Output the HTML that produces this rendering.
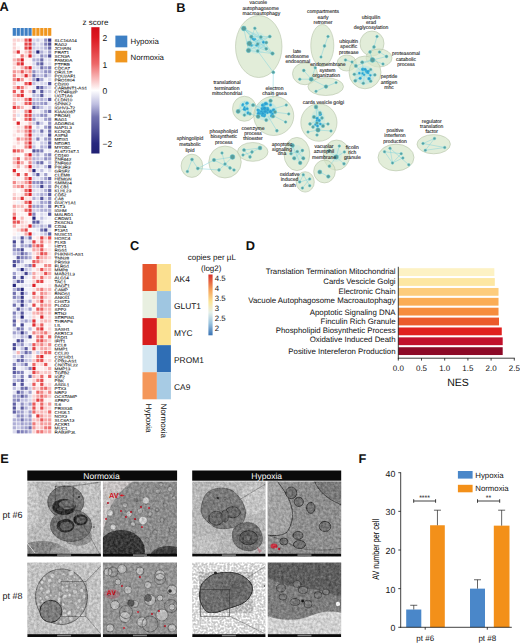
<!DOCTYPE html>
<html><head><meta charset="utf-8"><title>Figure</title>
<style>
html,body{margin:0;padding:0;background:#fff;}
body{width:520px;height:643px;overflow:hidden;}
svg{display:block;}
svg{fill:#111;text-rendering:geometricPrecision;}
text{font-family:"Liberation Sans", sans-serif;}
.pl{font-size:12.8px;font-weight:bold;}
.gl{font-size:3.9px;}
.t5{font-size:5.05px;}
.t6{font-size:6px;}
.t7{font-size:7px;}
.t88{font-size:8.8px;}
.t75{font-size:7.8px;}
.t76{font-size:7.6px;}
.t95{font-size:9.5px;}
.t77{font-size:7.85px;}
.t8{font-size:8px;}
.t84{font-size:8.4px;}
.t85{font-size:8.5px;}
.t9{font-size:9px;}
.t10{font-size:10.5px;}
</style></head><body>
<svg width="520" height="643" viewBox="0 0 520 643">
<rect width="520" height="643" fill="#fff"/>
<text x="-0.4" y="10.9" class="pl">A</text>
<rect x="12.7" y="28" width="3.23" height="7.8" fill="#3d7fc4"/>
<rect x="16.63" y="28" width="3.23" height="7.8" fill="#3d7fc4"/>
<rect x="20.56" y="28" width="3.23" height="7.8" fill="#3d7fc4"/>
<rect x="24.49" y="28" width="3.23" height="7.8" fill="#3d7fc4"/>
<rect x="28.42" y="28" width="3.23" height="7.8" fill="#3d7fc4"/>
<rect x="32.35" y="28" width="3.23" height="7.8" fill="#f0961e"/>
<rect x="36.28" y="28" width="3.23" height="7.8" fill="#f0961e"/>
<rect x="40.21" y="28" width="3.23" height="7.8" fill="#f0961e"/>
<rect x="44.14" y="28" width="3.23" height="7.8" fill="#f0961e"/>
<rect x="48.07" y="28" width="3.23" height="7.8" fill="#f0961e"/>
<rect x="12.7" y="38.5" width="3.23" height="3.26" fill="#fbd3d3"/>
<rect x="16.63" y="38.5" width="3.23" height="3.26" fill="#fbd3d3"/>
<rect x="20.56" y="38.5" width="3.23" height="3.26" fill="#fce2e2"/>
<rect x="24.49" y="38.5" width="3.23" height="3.26" fill="#ea585a"/>
<rect x="28.42" y="38.5" width="3.23" height="3.26" fill="#dc1820"/>
<rect x="32.35" y="38.5" width="3.23" height="3.26" fill="#d8d8ec"/>
<rect x="36.28" y="38.5" width="3.23" height="3.26" fill="#cbcbe6"/>
<rect x="40.21" y="38.5" width="3.23" height="3.26" fill="#e5e5f3"/>
<rect x="44.14" y="38.5" width="3.23" height="3.26" fill="#9090c3"/>
<rect x="48.07" y="38.5" width="3.23" height="3.26" fill="#373788"/>
<rect x="12.7" y="42.46" width="3.23" height="3.26" fill="#fbd3d3"/>
<rect x="16.63" y="42.46" width="3.23" height="3.26" fill="#ffffff"/>
<rect x="20.56" y="42.46" width="3.23" height="3.26" fill="#ffffff"/>
<rect x="24.49" y="42.46" width="3.23" height="3.26" fill="#e6484b"/>
<rect x="28.42" y="42.46" width="3.23" height="3.26" fill="#e3383d"/>
<rect x="32.35" y="42.46" width="3.23" height="3.26" fill="#bebee0"/>
<rect x="36.28" y="42.46" width="3.23" height="3.26" fill="#e5e5f3"/>
<rect x="40.21" y="42.46" width="3.23" height="3.26" fill="#cbcbe6"/>
<rect x="44.14" y="42.46" width="3.23" height="3.26" fill="#8181ba"/>
<rect x="48.07" y="42.46" width="3.23" height="3.26" fill="#4d4d97"/>
<rect x="12.7" y="46.41" width="3.23" height="3.26" fill="#fbd3d3"/>
<rect x="16.63" y="46.41" width="3.23" height="3.26" fill="#fef0f0"/>
<rect x="20.56" y="46.41" width="3.23" height="3.26" fill="#ffffff"/>
<rect x="24.49" y="46.41" width="3.23" height="3.26" fill="#e6484b"/>
<rect x="28.42" y="46.41" width="3.23" height="3.26" fill="#dc1820"/>
<rect x="32.35" y="46.41" width="3.23" height="3.26" fill="#cbcbe6"/>
<rect x="36.28" y="46.41" width="3.23" height="3.26" fill="#d8d8ec"/>
<rect x="40.21" y="46.41" width="3.23" height="3.26" fill="#cbcbe6"/>
<rect x="44.14" y="46.41" width="3.23" height="3.26" fill="#afafd6"/>
<rect x="48.07" y="46.41" width="3.23" height="3.26" fill="#6b6bab"/>
<rect x="12.7" y="50.37" width="3.23" height="3.26" fill="#f9c5c5"/>
<rect x="16.63" y="50.37" width="3.23" height="3.26" fill="#e13036"/>
<rect x="20.56" y="50.37" width="3.23" height="3.26" fill="#fef0f0"/>
<rect x="24.49" y="50.37" width="3.23" height="3.26" fill="#f9c5c5"/>
<rect x="28.42" y="50.37" width="3.23" height="3.26" fill="#ef7878"/>
<rect x="32.35" y="50.37" width="3.23" height="3.26" fill="#cbcbe6"/>
<rect x="36.28" y="50.37" width="3.23" height="3.26" fill="#28287e"/>
<rect x="40.21" y="50.37" width="3.23" height="3.26" fill="#afafd6"/>
<rect x="44.14" y="50.37" width="3.23" height="3.26" fill="#d8d8ec"/>
<rect x="48.07" y="50.37" width="3.23" height="3.26" fill="#a0a0cd"/>
<rect x="12.7" y="54.32" width="3.23" height="3.26" fill="#fce2e2"/>
<rect x="16.63" y="54.32" width="3.23" height="3.26" fill="#ffffff"/>
<rect x="20.56" y="54.32" width="3.23" height="3.26" fill="#ef7878"/>
<rect x="24.49" y="54.32" width="3.23" height="3.26" fill="#fbd3d3"/>
<rect x="28.42" y="54.32" width="3.23" height="3.26" fill="#de2027"/>
<rect x="32.35" y="54.32" width="3.23" height="3.26" fill="#cbcbe6"/>
<rect x="36.28" y="54.32" width="3.23" height="3.26" fill="#e5e5f3"/>
<rect x="40.21" y="54.32" width="3.23" height="3.26" fill="#9090c3"/>
<rect x="44.14" y="54.32" width="3.23" height="3.26" fill="#afafd6"/>
<rect x="48.07" y="54.32" width="3.23" height="3.26" fill="#4d4d97"/>
<rect x="12.7" y="58.28" width="3.23" height="3.26" fill="#f8b6b6"/>
<rect x="16.63" y="58.28" width="3.23" height="3.26" fill="#f18787"/>
<rect x="20.56" y="58.28" width="3.23" height="3.26" fill="#dc1820"/>
<rect x="24.49" y="58.28" width="3.23" height="3.26" fill="#fef0f0"/>
<rect x="28.42" y="58.28" width="3.23" height="3.26" fill="#fef0f0"/>
<rect x="32.35" y="58.28" width="3.23" height="3.26" fill="#afafd6"/>
<rect x="36.28" y="58.28" width="3.23" height="3.26" fill="#afafd6"/>
<rect x="40.21" y="58.28" width="3.23" height="3.26" fill="#6b6bab"/>
<rect x="44.14" y="58.28" width="3.23" height="3.26" fill="#e5e5f3"/>
<rect x="48.07" y="58.28" width="3.23" height="3.26" fill="#d8d8ec"/>
<rect x="12.7" y="62.24" width="3.23" height="3.26" fill="#fbd3d3"/>
<rect x="16.63" y="62.24" width="3.23" height="3.26" fill="#e85052"/>
<rect x="20.56" y="62.24" width="3.23" height="3.26" fill="#df282e"/>
<rect x="24.49" y="62.24" width="3.23" height="3.26" fill="#fef0f0"/>
<rect x="28.42" y="62.24" width="3.23" height="3.26" fill="#fef0f0"/>
<rect x="32.35" y="62.24" width="3.23" height="3.26" fill="#d8d8ec"/>
<rect x="36.28" y="62.24" width="3.23" height="3.26" fill="#8181ba"/>
<rect x="40.21" y="62.24" width="3.23" height="3.26" fill="#5c5ca1"/>
<rect x="44.14" y="62.24" width="3.23" height="3.26" fill="#e5e5f3"/>
<rect x="48.07" y="62.24" width="3.23" height="3.26" fill="#d8d8ec"/>
<rect x="12.7" y="66.19" width="3.23" height="3.26" fill="#fbd3d3"/>
<rect x="16.63" y="66.19" width="3.23" height="3.26" fill="#fef0f0"/>
<rect x="20.56" y="66.19" width="3.23" height="3.26" fill="#f8b6b6"/>
<rect x="24.49" y="66.19" width="3.23" height="3.26" fill="#eb6061"/>
<rect x="28.42" y="66.19" width="3.23" height="3.26" fill="#de2027"/>
<rect x="32.35" y="66.19" width="3.23" height="3.26" fill="#d8d8ec"/>
<rect x="36.28" y="66.19" width="3.23" height="3.26" fill="#d8d8ec"/>
<rect x="40.21" y="66.19" width="3.23" height="3.26" fill="#7272b0"/>
<rect x="44.14" y="66.19" width="3.23" height="3.26" fill="#a0a0cd"/>
<rect x="48.07" y="66.19" width="3.23" height="3.26" fill="#8181ba"/>
<rect x="12.7" y="70.15" width="3.23" height="3.26" fill="#f49797"/>
<rect x="16.63" y="70.15" width="3.23" height="3.26" fill="#f8b6b6"/>
<rect x="20.56" y="70.15" width="3.23" height="3.26" fill="#ea585a"/>
<rect x="24.49" y="70.15" width="3.23" height="3.26" fill="#f8b6b6"/>
<rect x="28.42" y="70.15" width="3.23" height="3.26" fill="#f49797"/>
<rect x="32.35" y="70.15" width="3.23" height="3.26" fill="#9090c3"/>
<rect x="36.28" y="70.15" width="3.23" height="3.26" fill="#cbcbe6"/>
<rect x="40.21" y="70.15" width="3.23" height="3.26" fill="#bebee0"/>
<rect x="44.14" y="70.15" width="3.23" height="3.26" fill="#9090c3"/>
<rect x="48.07" y="70.15" width="3.23" height="3.26" fill="#9090c3"/>
<rect x="12.7" y="74.1" width="3.23" height="3.26" fill="#f18787"/>
<rect x="16.63" y="74.1" width="3.23" height="3.26" fill="#fce2e2"/>
<rect x="20.56" y="74.1" width="3.23" height="3.26" fill="#f9c5c5"/>
<rect x="24.49" y="74.1" width="3.23" height="3.26" fill="#df282e"/>
<rect x="28.42" y="74.1" width="3.23" height="3.26" fill="#f8b6b6"/>
<rect x="32.35" y="74.1" width="3.23" height="3.26" fill="#7272b0"/>
<rect x="36.28" y="74.1" width="3.23" height="3.26" fill="#bebee0"/>
<rect x="40.21" y="74.1" width="3.23" height="3.26" fill="#bebee0"/>
<rect x="44.14" y="74.1" width="3.23" height="3.26" fill="#9090c3"/>
<rect x="48.07" y="74.1" width="3.23" height="3.26" fill="#cbcbe6"/>
<rect x="12.7" y="78.06" width="3.23" height="3.26" fill="#f18787"/>
<rect x="16.63" y="78.06" width="3.23" height="3.26" fill="#e44044"/>
<rect x="20.56" y="78.06" width="3.23" height="3.26" fill="#f49797"/>
<rect x="24.49" y="78.06" width="3.23" height="3.26" fill="#fef0f0"/>
<rect x="28.42" y="78.06" width="3.23" height="3.26" fill="#fbd3d3"/>
<rect x="32.35" y="78.06" width="3.23" height="3.26" fill="#a0a0cd"/>
<rect x="36.28" y="78.06" width="3.23" height="3.26" fill="#373788"/>
<rect x="40.21" y="78.06" width="3.23" height="3.26" fill="#a0a0cd"/>
<rect x="44.14" y="78.06" width="3.23" height="3.26" fill="#f2f2f9"/>
<rect x="48.07" y="78.06" width="3.23" height="3.26" fill="#d8d8ec"/>
<rect x="12.7" y="82.02" width="3.23" height="3.26" fill="#f9c5c5"/>
<rect x="16.63" y="82.02" width="3.23" height="3.26" fill="#f2f2f9"/>
<rect x="20.56" y="82.02" width="3.23" height="3.26" fill="#fef0f0"/>
<rect x="24.49" y="82.02" width="3.23" height="3.26" fill="#ea585a"/>
<rect x="28.42" y="82.02" width="3.23" height="3.26" fill="#dc1820"/>
<rect x="32.35" y="82.02" width="3.23" height="3.26" fill="#bebee0"/>
<rect x="36.28" y="82.02" width="3.23" height="3.26" fill="#e5e5f3"/>
<rect x="40.21" y="82.02" width="3.23" height="3.26" fill="#d8d8ec"/>
<rect x="44.14" y="82.02" width="3.23" height="3.26" fill="#d8d8ec"/>
<rect x="48.07" y="82.02" width="3.23" height="3.26" fill="#54549c"/>
<rect x="12.7" y="85.97" width="3.23" height="3.26" fill="#f8b6b6"/>
<rect x="16.63" y="85.97" width="3.23" height="3.26" fill="#e85052"/>
<rect x="20.56" y="85.97" width="3.23" height="3.26" fill="#ef7878"/>
<rect x="24.49" y="85.97" width="3.23" height="3.26" fill="#fbd3d3"/>
<rect x="28.42" y="85.97" width="3.23" height="3.26" fill="#fef0f0"/>
<rect x="32.35" y="85.97" width="3.23" height="3.26" fill="#e5e5f3"/>
<rect x="36.28" y="85.97" width="3.23" height="3.26" fill="#4d4d97"/>
<rect x="40.21" y="85.97" width="3.23" height="3.26" fill="#6b6bab"/>
<rect x="44.14" y="85.97" width="3.23" height="3.26" fill="#bebee0"/>
<rect x="48.07" y="85.97" width="3.23" height="3.26" fill="#d8d8ec"/>
<rect x="12.7" y="89.93" width="3.23" height="3.26" fill="#ea585a"/>
<rect x="16.63" y="89.93" width="3.23" height="3.26" fill="#fef0f0"/>
<rect x="20.56" y="89.93" width="3.23" height="3.26" fill="#e6484b"/>
<rect x="24.49" y="89.93" width="3.23" height="3.26" fill="#fef0f0"/>
<rect x="28.42" y="89.93" width="3.23" height="3.26" fill="#f9c5c5"/>
<rect x="32.35" y="89.93" width="3.23" height="3.26" fill="#54549c"/>
<rect x="36.28" y="89.93" width="3.23" height="3.26" fill="#e5e5f3"/>
<rect x="40.21" y="89.93" width="3.23" height="3.26" fill="#5c5ca1"/>
<rect x="44.14" y="89.93" width="3.23" height="3.26" fill="#d8d8ec"/>
<rect x="48.07" y="89.93" width="3.23" height="3.26" fill="#cbcbe6"/>
<rect x="12.7" y="93.88" width="3.23" height="3.26" fill="#f8b6b6"/>
<rect x="16.63" y="93.88" width="3.23" height="3.26" fill="#ed6868"/>
<rect x="20.56" y="93.88" width="3.23" height="3.26" fill="#df282e"/>
<rect x="24.49" y="93.88" width="3.23" height="3.26" fill="#fef0f0"/>
<rect x="28.42" y="93.88" width="3.23" height="3.26" fill="#fef0f0"/>
<rect x="32.35" y="93.88" width="3.23" height="3.26" fill="#bebee0"/>
<rect x="36.28" y="93.88" width="3.23" height="3.26" fill="#bebee0"/>
<rect x="40.21" y="93.88" width="3.23" height="3.26" fill="#5c5ca1"/>
<rect x="44.14" y="93.88" width="3.23" height="3.26" fill="#e5e5f3"/>
<rect x="48.07" y="93.88" width="3.23" height="3.26" fill="#e5e5f3"/>
<rect x="12.7" y="97.84" width="3.23" height="3.26" fill="#f9c5c5"/>
<rect x="16.63" y="97.84" width="3.23" height="3.26" fill="#fbd3d3"/>
<rect x="20.56" y="97.84" width="3.23" height="3.26" fill="#fce2e2"/>
<rect x="24.49" y="97.84" width="3.23" height="3.26" fill="#ef7878"/>
<rect x="28.42" y="97.84" width="3.23" height="3.26" fill="#df282e"/>
<rect x="32.35" y="97.84" width="3.23" height="3.26" fill="#bebee0"/>
<rect x="36.28" y="97.84" width="3.23" height="3.26" fill="#bebee0"/>
<rect x="40.21" y="97.84" width="3.23" height="3.26" fill="#afafd6"/>
<rect x="44.14" y="97.84" width="3.23" height="3.26" fill="#bebee0"/>
<rect x="48.07" y="97.84" width="3.23" height="3.26" fill="#5c5ca1"/>
<rect x="12.7" y="101.8" width="3.23" height="3.26" fill="#f8b6b6"/>
<rect x="16.63" y="101.8" width="3.23" height="3.26" fill="#f2f2f9"/>
<rect x="20.56" y="101.8" width="3.23" height="3.26" fill="#fce2e2"/>
<rect x="24.49" y="101.8" width="3.23" height="3.26" fill="#eb6061"/>
<rect x="28.42" y="101.8" width="3.23" height="3.26" fill="#e44044"/>
<rect x="32.35" y="101.8" width="3.23" height="3.26" fill="#a0a0cd"/>
<rect x="36.28" y="101.8" width="3.23" height="3.26" fill="#afafd6"/>
<rect x="40.21" y="101.8" width="3.23" height="3.26" fill="#a0a0cd"/>
<rect x="44.14" y="101.8" width="3.23" height="3.26" fill="#9090c3"/>
<rect x="48.07" y="101.8" width="3.23" height="3.26" fill="#e5e5f3"/>
<rect x="12.7" y="105.75" width="3.23" height="3.26" fill="#e3383d"/>
<rect x="16.63" y="105.75" width="3.23" height="3.26" fill="#f18787"/>
<rect x="20.56" y="105.75" width="3.23" height="3.26" fill="#f8b6b6"/>
<rect x="24.49" y="105.75" width="3.23" height="3.26" fill="#fef0f0"/>
<rect x="28.42" y="105.75" width="3.23" height="3.26" fill="#fce2e2"/>
<rect x="32.35" y="105.75" width="3.23" height="3.26" fill="#4d4d97"/>
<rect x="36.28" y="105.75" width="3.23" height="3.26" fill="#9090c3"/>
<rect x="40.21" y="105.75" width="3.23" height="3.26" fill="#bebee0"/>
<rect x="44.14" y="105.75" width="3.23" height="3.26" fill="#e5e5f3"/>
<rect x="48.07" y="105.75" width="3.23" height="3.26" fill="#cbcbe6"/>
<rect x="12.7" y="109.71" width="3.23" height="3.26" fill="#fbd3d3"/>
<rect x="16.63" y="109.71" width="3.23" height="3.26" fill="#fef0f0"/>
<rect x="20.56" y="109.71" width="3.23" height="3.26" fill="#f2f2f9"/>
<rect x="24.49" y="109.71" width="3.23" height="3.26" fill="#f18787"/>
<rect x="28.42" y="109.71" width="3.23" height="3.26" fill="#dc1820"/>
<rect x="32.35" y="109.71" width="3.23" height="3.26" fill="#e5e5f3"/>
<rect x="36.28" y="109.71" width="3.23" height="3.26" fill="#f2f2f9"/>
<rect x="40.21" y="109.71" width="3.23" height="3.26" fill="#d8d8ec"/>
<rect x="44.14" y="109.71" width="3.23" height="3.26" fill="#a0a0cd"/>
<rect x="48.07" y="109.71" width="3.23" height="3.26" fill="#6b6bab"/>
<rect x="12.7" y="113.66" width="3.23" height="3.26" fill="#f9c5c5"/>
<rect x="16.63" y="113.66" width="3.23" height="3.26" fill="#e5e5f3"/>
<rect x="20.56" y="113.66" width="3.23" height="3.26" fill="#fef0f0"/>
<rect x="24.49" y="113.66" width="3.23" height="3.26" fill="#ea585a"/>
<rect x="28.42" y="113.66" width="3.23" height="3.26" fill="#e44044"/>
<rect x="32.35" y="113.66" width="3.23" height="3.26" fill="#bebee0"/>
<rect x="36.28" y="113.66" width="3.23" height="3.26" fill="#bebee0"/>
<rect x="40.21" y="113.66" width="3.23" height="3.26" fill="#9090c3"/>
<rect x="44.14" y="113.66" width="3.23" height="3.26" fill="#9090c3"/>
<rect x="48.07" y="113.66" width="3.23" height="3.26" fill="#e5e5f3"/>
<rect x="12.7" y="117.62" width="3.23" height="3.26" fill="#f8b6b6"/>
<rect x="16.63" y="117.62" width="3.23" height="3.26" fill="#ffffff"/>
<rect x="20.56" y="117.62" width="3.23" height="3.26" fill="#fef0f0"/>
<rect x="24.49" y="117.62" width="3.23" height="3.26" fill="#ed6868"/>
<rect x="28.42" y="117.62" width="3.23" height="3.26" fill="#e3383d"/>
<rect x="32.35" y="117.62" width="3.23" height="3.26" fill="#a0a0cd"/>
<rect x="36.28" y="117.62" width="3.23" height="3.26" fill="#e5e5f3"/>
<rect x="40.21" y="117.62" width="3.23" height="3.26" fill="#e5e5f3"/>
<rect x="44.14" y="117.62" width="3.23" height="3.26" fill="#a0a0cd"/>
<rect x="48.07" y="117.62" width="3.23" height="3.26" fill="#9090c3"/>
<rect x="12.7" y="121.58" width="3.23" height="3.26" fill="#fef0f0"/>
<rect x="16.63" y="121.58" width="3.23" height="3.26" fill="#de2027"/>
<rect x="20.56" y="121.58" width="3.23" height="3.26" fill="#fef0f0"/>
<rect x="24.49" y="121.58" width="3.23" height="3.26" fill="#fef0f0"/>
<rect x="28.42" y="121.58" width="3.23" height="3.26" fill="#f8b6b6"/>
<rect x="32.35" y="121.58" width="3.23" height="3.26" fill="#cbcbe6"/>
<rect x="36.28" y="121.58" width="3.23" height="3.26" fill="#7272b0"/>
<rect x="40.21" y="121.58" width="3.23" height="3.26" fill="#cbcbe6"/>
<rect x="44.14" y="121.58" width="3.23" height="3.26" fill="#f2f2f9"/>
<rect x="48.07" y="121.58" width="3.23" height="3.26" fill="#9090c3"/>
<rect x="12.7" y="125.53" width="3.23" height="3.26" fill="#fef0f0"/>
<rect x="16.63" y="125.53" width="3.23" height="3.26" fill="#fbd3d3"/>
<rect x="20.56" y="125.53" width="3.23" height="3.26" fill="#fce2e2"/>
<rect x="24.49" y="125.53" width="3.23" height="3.26" fill="#ed6868"/>
<rect x="28.42" y="125.53" width="3.23" height="3.26" fill="#e13036"/>
<rect x="32.35" y="125.53" width="3.23" height="3.26" fill="#f2f2f9"/>
<rect x="36.28" y="125.53" width="3.23" height="3.26" fill="#cbcbe6"/>
<rect x="40.21" y="125.53" width="3.23" height="3.26" fill="#f2f2f9"/>
<rect x="44.14" y="125.53" width="3.23" height="3.26" fill="#a0a0cd"/>
<rect x="48.07" y="125.53" width="3.23" height="3.26" fill="#6b6bab"/>
<rect x="12.7" y="129.49" width="3.23" height="3.26" fill="#fef0f0"/>
<rect x="16.63" y="129.49" width="3.23" height="3.26" fill="#f9c5c5"/>
<rect x="20.56" y="129.49" width="3.23" height="3.26" fill="#fbd3d3"/>
<rect x="24.49" y="129.49" width="3.23" height="3.26" fill="#f18787"/>
<rect x="28.42" y="129.49" width="3.23" height="3.26" fill="#e3383d"/>
<rect x="32.35" y="129.49" width="3.23" height="3.26" fill="#bebee0"/>
<rect x="36.28" y="129.49" width="3.23" height="3.26" fill="#d8d8ec"/>
<rect x="40.21" y="129.49" width="3.23" height="3.26" fill="#7272b0"/>
<rect x="44.14" y="129.49" width="3.23" height="3.26" fill="#e5e5f3"/>
<rect x="48.07" y="129.49" width="3.23" height="3.26" fill="#7272b0"/>
<rect x="12.7" y="133.44" width="3.23" height="3.26" fill="#fce2e2"/>
<rect x="16.63" y="133.44" width="3.23" height="3.26" fill="#fef0f0"/>
<rect x="20.56" y="133.44" width="3.23" height="3.26" fill="#fef0f0"/>
<rect x="24.49" y="133.44" width="3.23" height="3.26" fill="#f49797"/>
<rect x="28.42" y="133.44" width="3.23" height="3.26" fill="#dc1820"/>
<rect x="32.35" y="133.44" width="3.23" height="3.26" fill="#d8d8ec"/>
<rect x="36.28" y="133.44" width="3.23" height="3.26" fill="#d8d8ec"/>
<rect x="40.21" y="133.44" width="3.23" height="3.26" fill="#cbcbe6"/>
<rect x="44.14" y="133.44" width="3.23" height="3.26" fill="#e5e5f3"/>
<rect x="48.07" y="133.44" width="3.23" height="3.26" fill="#4d4d97"/>
<rect x="12.7" y="137.4" width="3.23" height="3.26" fill="#fef0f0"/>
<rect x="16.63" y="137.4" width="3.23" height="3.26" fill="#f18787"/>
<rect x="20.56" y="137.4" width="3.23" height="3.26" fill="#f8b6b6"/>
<rect x="24.49" y="137.4" width="3.23" height="3.26" fill="#f18787"/>
<rect x="28.42" y="137.4" width="3.23" height="3.26" fill="#e85052"/>
<rect x="32.35" y="137.4" width="3.23" height="3.26" fill="#d8d8ec"/>
<rect x="36.28" y="137.4" width="3.23" height="3.26" fill="#8181ba"/>
<rect x="40.21" y="137.4" width="3.23" height="3.26" fill="#e5e5f3"/>
<rect x="44.14" y="137.4" width="3.23" height="3.26" fill="#a0a0cd"/>
<rect x="48.07" y="137.4" width="3.23" height="3.26" fill="#8181ba"/>
<rect x="12.7" y="141.36" width="3.23" height="3.26" fill="#fef0f0"/>
<rect x="16.63" y="141.36" width="3.23" height="3.26" fill="#fbd3d3"/>
<rect x="20.56" y="141.36" width="3.23" height="3.26" fill="#fef0f0"/>
<rect x="24.49" y="141.36" width="3.23" height="3.26" fill="#f18787"/>
<rect x="28.42" y="141.36" width="3.23" height="3.26" fill="#de2027"/>
<rect x="32.35" y="141.36" width="3.23" height="3.26" fill="#d8d8ec"/>
<rect x="36.28" y="141.36" width="3.23" height="3.26" fill="#f2f2f9"/>
<rect x="40.21" y="141.36" width="3.23" height="3.26" fill="#cbcbe6"/>
<rect x="44.14" y="141.36" width="3.23" height="3.26" fill="#cbcbe6"/>
<rect x="48.07" y="141.36" width="3.23" height="3.26" fill="#5c5ca1"/>
<rect x="12.7" y="145.31" width="3.23" height="3.26" fill="#fbd3d3"/>
<rect x="16.63" y="145.31" width="3.23" height="3.26" fill="#fef0f0"/>
<rect x="20.56" y="145.31" width="3.23" height="3.26" fill="#fef0f0"/>
<rect x="24.49" y="145.31" width="3.23" height="3.26" fill="#f18787"/>
<rect x="28.42" y="145.31" width="3.23" height="3.26" fill="#df282e"/>
<rect x="32.35" y="145.31" width="3.23" height="3.26" fill="#bebee0"/>
<rect x="36.28" y="145.31" width="3.23" height="3.26" fill="#f2f2f9"/>
<rect x="40.21" y="145.31" width="3.23" height="3.26" fill="#afafd6"/>
<rect x="44.14" y="145.31" width="3.23" height="3.26" fill="#bebee0"/>
<rect x="48.07" y="145.31" width="3.23" height="3.26" fill="#4d4d97"/>
<rect x="12.7" y="149.27" width="3.23" height="3.26" fill="#e6484b"/>
<rect x="16.63" y="149.27" width="3.23" height="3.26" fill="#ed6868"/>
<rect x="20.56" y="149.27" width="3.23" height="3.26" fill="#f49797"/>
<rect x="24.49" y="149.27" width="3.23" height="3.26" fill="#fef0f0"/>
<rect x="28.42" y="149.27" width="3.23" height="3.26" fill="#fef0f0"/>
<rect x="32.35" y="149.27" width="3.23" height="3.26" fill="#54549c"/>
<rect x="36.28" y="149.27" width="3.23" height="3.26" fill="#7272b0"/>
<rect x="40.21" y="149.27" width="3.23" height="3.26" fill="#8181ba"/>
<rect x="44.14" y="149.27" width="3.23" height="3.26" fill="#f2f2f9"/>
<rect x="48.07" y="149.27" width="3.23" height="3.26" fill="#e5e5f3"/>
<rect x="12.7" y="153.22" width="3.23" height="3.26" fill="#fce2e2"/>
<rect x="16.63" y="153.22" width="3.23" height="3.26" fill="#fef0f0"/>
<rect x="20.56" y="153.22" width="3.23" height="3.26" fill="#ffffff"/>
<rect x="24.49" y="153.22" width="3.23" height="3.26" fill="#f49797"/>
<rect x="28.42" y="153.22" width="3.23" height="3.26" fill="#dc1820"/>
<rect x="32.35" y="153.22" width="3.23" height="3.26" fill="#cbcbe6"/>
<rect x="36.28" y="153.22" width="3.23" height="3.26" fill="#afafd6"/>
<rect x="40.21" y="153.22" width="3.23" height="3.26" fill="#e5e5f3"/>
<rect x="44.14" y="153.22" width="3.23" height="3.26" fill="#a0a0cd"/>
<rect x="48.07" y="153.22" width="3.23" height="3.26" fill="#8181ba"/>
<rect x="12.7" y="157.18" width="3.23" height="3.26" fill="#f8b6b6"/>
<rect x="16.63" y="157.18" width="3.23" height="3.26" fill="#ea585a"/>
<rect x="20.56" y="157.18" width="3.23" height="3.26" fill="#fef0f0"/>
<rect x="24.49" y="157.18" width="3.23" height="3.26" fill="#f49797"/>
<rect x="28.42" y="157.18" width="3.23" height="3.26" fill="#f49797"/>
<rect x="32.35" y="157.18" width="3.23" height="3.26" fill="#afafd6"/>
<rect x="36.28" y="157.18" width="3.23" height="3.26" fill="#bebee0"/>
<rect x="40.21" y="157.18" width="3.23" height="3.26" fill="#cbcbe6"/>
<rect x="44.14" y="157.18" width="3.23" height="3.26" fill="#9090c3"/>
<rect x="48.07" y="157.18" width="3.23" height="3.26" fill="#a0a0cd"/>
<rect x="12.7" y="161.14" width="3.23" height="3.26" fill="#f8b6b6"/>
<rect x="16.63" y="161.14" width="3.23" height="3.26" fill="#e85052"/>
<rect x="20.56" y="161.14" width="3.23" height="3.26" fill="#f6a6a6"/>
<rect x="24.49" y="161.14" width="3.23" height="3.26" fill="#fef0f0"/>
<rect x="28.42" y="161.14" width="3.23" height="3.26" fill="#f18787"/>
<rect x="32.35" y="161.14" width="3.23" height="3.26" fill="#bebee0"/>
<rect x="36.28" y="161.14" width="3.23" height="3.26" fill="#8181ba"/>
<rect x="40.21" y="161.14" width="3.23" height="3.26" fill="#6b6bab"/>
<rect x="44.14" y="161.14" width="3.23" height="3.26" fill="#f2f2f9"/>
<rect x="48.07" y="161.14" width="3.23" height="3.26" fill="#bebee0"/>
<rect x="12.7" y="165.09" width="3.23" height="3.26" fill="#fce2e2"/>
<rect x="16.63" y="165.09" width="3.23" height="3.26" fill="#f6a6a6"/>
<rect x="20.56" y="165.09" width="3.23" height="3.26" fill="#fef0f0"/>
<rect x="24.49" y="165.09" width="3.23" height="3.26" fill="#f8b6b6"/>
<rect x="28.42" y="165.09" width="3.23" height="3.26" fill="#dc1820"/>
<rect x="32.35" y="165.09" width="3.23" height="3.26" fill="#d8d8ec"/>
<rect x="36.28" y="165.09" width="3.23" height="3.26" fill="#cbcbe6"/>
<rect x="40.21" y="165.09" width="3.23" height="3.26" fill="#e5e5f3"/>
<rect x="44.14" y="165.09" width="3.23" height="3.26" fill="#bebee0"/>
<rect x="48.07" y="165.09" width="3.23" height="3.26" fill="#4d4d97"/>
<rect x="12.7" y="169.05" width="3.23" height="3.26" fill="#de2027"/>
<rect x="16.63" y="169.05" width="3.23" height="3.26" fill="#fef0f0"/>
<rect x="20.56" y="169.05" width="3.23" height="3.26" fill="#fef0f0"/>
<rect x="24.49" y="169.05" width="3.23" height="3.26" fill="#fef0f0"/>
<rect x="28.42" y="169.05" width="3.23" height="3.26" fill="#f8b6b6"/>
<rect x="32.35" y="169.05" width="3.23" height="3.26" fill="#28287e"/>
<rect x="36.28" y="169.05" width="3.23" height="3.26" fill="#e5e5f3"/>
<rect x="40.21" y="169.05" width="3.23" height="3.26" fill="#bebee0"/>
<rect x="44.14" y="169.05" width="3.23" height="3.26" fill="#f2f2f9"/>
<rect x="48.07" y="169.05" width="3.23" height="3.26" fill="#d8d8ec"/>
<rect x="12.7" y="173" width="3.23" height="3.26" fill="#fbd3d3"/>
<rect x="16.63" y="173" width="3.23" height="3.26" fill="#e3383d"/>
<rect x="20.56" y="173" width="3.23" height="3.26" fill="#fef0f0"/>
<rect x="24.49" y="173" width="3.23" height="3.26" fill="#e85052"/>
<rect x="28.42" y="173" width="3.23" height="3.26" fill="#fef0f0"/>
<rect x="32.35" y="173" width="3.23" height="3.26" fill="#bebee0"/>
<rect x="36.28" y="173" width="3.23" height="3.26" fill="#5c5ca1"/>
<rect x="40.21" y="173" width="3.23" height="3.26" fill="#e5e5f3"/>
<rect x="44.14" y="173" width="3.23" height="3.26" fill="#a0a0cd"/>
<rect x="48.07" y="173" width="3.23" height="3.26" fill="#f2f2f9"/>
<rect x="12.7" y="176.96" width="3.23" height="3.26" fill="#fce2e2"/>
<rect x="16.63" y="176.96" width="3.23" height="3.26" fill="#f2f2f9"/>
<rect x="20.56" y="176.96" width="3.23" height="3.26" fill="#fef0f0"/>
<rect x="24.49" y="176.96" width="3.23" height="3.26" fill="#f18787"/>
<rect x="28.42" y="176.96" width="3.23" height="3.26" fill="#de2027"/>
<rect x="32.35" y="176.96" width="3.23" height="3.26" fill="#d8d8ec"/>
<rect x="36.28" y="176.96" width="3.23" height="3.26" fill="#e5e5f3"/>
<rect x="40.21" y="176.96" width="3.23" height="3.26" fill="#cbcbe6"/>
<rect x="44.14" y="176.96" width="3.23" height="3.26" fill="#a0a0cd"/>
<rect x="48.07" y="176.96" width="3.23" height="3.26" fill="#6363a6"/>
<rect x="12.7" y="180.92" width="3.23" height="3.26" fill="#f18787"/>
<rect x="16.63" y="180.92" width="3.23" height="3.26" fill="#fbd3d3"/>
<rect x="20.56" y="180.92" width="3.23" height="3.26" fill="#f9c5c5"/>
<rect x="24.49" y="180.92" width="3.23" height="3.26" fill="#f49797"/>
<rect x="28.42" y="180.92" width="3.23" height="3.26" fill="#e6484b"/>
<rect x="32.35" y="180.92" width="3.23" height="3.26" fill="#9090c3"/>
<rect x="36.28" y="180.92" width="3.23" height="3.26" fill="#9090c3"/>
<rect x="40.21" y="180.92" width="3.23" height="3.26" fill="#7272b0"/>
<rect x="44.14" y="180.92" width="3.23" height="3.26" fill="#bebee0"/>
<rect x="48.07" y="180.92" width="3.23" height="3.26" fill="#afafd6"/>
<rect x="12.7" y="184.87" width="3.23" height="3.26" fill="#f8b6b6"/>
<rect x="16.63" y="184.87" width="3.23" height="3.26" fill="#f49797"/>
<rect x="20.56" y="184.87" width="3.23" height="3.26" fill="#ed6868"/>
<rect x="24.49" y="184.87" width="3.23" height="3.26" fill="#fbd3d3"/>
<rect x="28.42" y="184.87" width="3.23" height="3.26" fill="#ef7878"/>
<rect x="32.35" y="184.87" width="3.23" height="3.26" fill="#cbcbe6"/>
<rect x="36.28" y="184.87" width="3.23" height="3.26" fill="#bebee0"/>
<rect x="40.21" y="184.87" width="3.23" height="3.26" fill="#464692"/>
<rect x="44.14" y="184.87" width="3.23" height="3.26" fill="#d8d8ec"/>
<rect x="48.07" y="184.87" width="3.23" height="3.26" fill="#9090c3"/>
<rect x="12.7" y="188.83" width="3.23" height="3.26" fill="#fef0f0"/>
<rect x="16.63" y="188.83" width="3.23" height="3.26" fill="#ffffff"/>
<rect x="20.56" y="188.83" width="3.23" height="3.26" fill="#fce2e2"/>
<rect x="24.49" y="188.83" width="3.23" height="3.26" fill="#eb6061"/>
<rect x="28.42" y="188.83" width="3.23" height="3.26" fill="#dc1820"/>
<rect x="32.35" y="188.83" width="3.23" height="3.26" fill="#d8d8ec"/>
<rect x="36.28" y="188.83" width="3.23" height="3.26" fill="#e5e5f3"/>
<rect x="40.21" y="188.83" width="3.23" height="3.26" fill="#d8d8ec"/>
<rect x="44.14" y="188.83" width="3.23" height="3.26" fill="#afafd6"/>
<rect x="48.07" y="188.83" width="3.23" height="3.26" fill="#6b6bab"/>
<rect x="12.7" y="192.78" width="3.23" height="3.26" fill="#fbd3d3"/>
<rect x="16.63" y="192.78" width="3.23" height="3.26" fill="#fef0f0"/>
<rect x="20.56" y="192.78" width="3.23" height="3.26" fill="#fce2e2"/>
<rect x="24.49" y="192.78" width="3.23" height="3.26" fill="#ef7878"/>
<rect x="28.42" y="192.78" width="3.23" height="3.26" fill="#de2027"/>
<rect x="32.35" y="192.78" width="3.23" height="3.26" fill="#d8d8ec"/>
<rect x="36.28" y="192.78" width="3.23" height="3.26" fill="#cbcbe6"/>
<rect x="40.21" y="192.78" width="3.23" height="3.26" fill="#afafd6"/>
<rect x="44.14" y="192.78" width="3.23" height="3.26" fill="#bebee0"/>
<rect x="48.07" y="192.78" width="3.23" height="3.26" fill="#54549c"/>
<rect x="12.7" y="196.74" width="3.23" height="3.26" fill="#f8b6b6"/>
<rect x="16.63" y="196.74" width="3.23" height="3.26" fill="#fbd3d3"/>
<rect x="20.56" y="196.74" width="3.23" height="3.26" fill="#e13036"/>
<rect x="24.49" y="196.74" width="3.23" height="3.26" fill="#fce2e2"/>
<rect x="28.42" y="196.74" width="3.23" height="3.26" fill="#fce2e2"/>
<rect x="32.35" y="196.74" width="3.23" height="3.26" fill="#afafd6"/>
<rect x="36.28" y="196.74" width="3.23" height="3.26" fill="#d8d8ec"/>
<rect x="40.21" y="196.74" width="3.23" height="3.26" fill="#54549c"/>
<rect x="44.14" y="196.74" width="3.23" height="3.26" fill="#d8d8ec"/>
<rect x="48.07" y="196.74" width="3.23" height="3.26" fill="#9090c3"/>
<rect x="12.7" y="200.7" width="3.23" height="3.26" fill="#fef0f0"/>
<rect x="16.63" y="200.7" width="3.23" height="3.26" fill="#f2f2f9"/>
<rect x="20.56" y="200.7" width="3.23" height="3.26" fill="#fce2e2"/>
<rect x="24.49" y="200.7" width="3.23" height="3.26" fill="#ed6868"/>
<rect x="28.42" y="200.7" width="3.23" height="3.26" fill="#de2027"/>
<rect x="32.35" y="200.7" width="3.23" height="3.26" fill="#e5e5f3"/>
<rect x="36.28" y="200.7" width="3.23" height="3.26" fill="#d8d8ec"/>
<rect x="40.21" y="200.7" width="3.23" height="3.26" fill="#a0a0cd"/>
<rect x="44.14" y="200.7" width="3.23" height="3.26" fill="#afafd6"/>
<rect x="48.07" y="200.7" width="3.23" height="3.26" fill="#8181ba"/>
<rect x="12.7" y="204.65" width="3.23" height="3.26" fill="#f6a6a6"/>
<rect x="16.63" y="204.65" width="3.23" height="3.26" fill="#f9c5c5"/>
<rect x="20.56" y="204.65" width="3.23" height="3.26" fill="#f8b6b6"/>
<rect x="24.49" y="204.65" width="3.23" height="3.26" fill="#fce2e2"/>
<rect x="28.42" y="204.65" width="3.23" height="3.26" fill="#e44044"/>
<rect x="32.35" y="204.65" width="3.23" height="3.26" fill="#a0a0cd"/>
<rect x="36.28" y="204.65" width="3.23" height="3.26" fill="#a0a0cd"/>
<rect x="40.21" y="204.65" width="3.23" height="3.26" fill="#a0a0cd"/>
<rect x="44.14" y="204.65" width="3.23" height="3.26" fill="#d8d8ec"/>
<rect x="48.07" y="204.65" width="3.23" height="3.26" fill="#7272b0"/>
<rect x="12.7" y="208.61" width="3.23" height="3.26" fill="#fbd3d3"/>
<rect x="16.63" y="208.61" width="3.23" height="3.26" fill="#fef0f0"/>
<rect x="20.56" y="208.61" width="3.23" height="3.26" fill="#fce2e2"/>
<rect x="24.49" y="208.61" width="3.23" height="3.26" fill="#ed6868"/>
<rect x="28.42" y="208.61" width="3.23" height="3.26" fill="#e3383d"/>
<rect x="32.35" y="208.61" width="3.23" height="3.26" fill="#cbcbe6"/>
<rect x="36.28" y="208.61" width="3.23" height="3.26" fill="#cbcbe6"/>
<rect x="40.21" y="208.61" width="3.23" height="3.26" fill="#afafd6"/>
<rect x="44.14" y="208.61" width="3.23" height="3.26" fill="#afafd6"/>
<rect x="48.07" y="208.61" width="3.23" height="3.26" fill="#afafd6"/>
<rect x="12.7" y="212.56" width="3.23" height="3.26" fill="#f18787"/>
<rect x="16.63" y="212.56" width="3.23" height="3.26" fill="#fef0f0"/>
<rect x="20.56" y="212.56" width="3.23" height="3.26" fill="#fef0f0"/>
<rect x="24.49" y="212.56" width="3.23" height="3.26" fill="#fef0f0"/>
<rect x="28.42" y="212.56" width="3.23" height="3.26" fill="#de2027"/>
<rect x="32.35" y="212.56" width="3.23" height="3.26" fill="#8181ba"/>
<rect x="36.28" y="212.56" width="3.23" height="3.26" fill="#f2f2f9"/>
<rect x="40.21" y="212.56" width="3.23" height="3.26" fill="#d8d8ec"/>
<rect x="44.14" y="212.56" width="3.23" height="3.26" fill="#e5e5f3"/>
<rect x="48.07" y="212.56" width="3.23" height="3.26" fill="#54549c"/>
<rect x="12.7" y="216.52" width="3.23" height="3.26" fill="#de2027"/>
<rect x="16.63" y="216.52" width="3.23" height="3.26" fill="#fef0f0"/>
<rect x="20.56" y="216.52" width="3.23" height="3.26" fill="#f8b6b6"/>
<rect x="24.49" y="216.52" width="3.23" height="3.26" fill="#fef0f0"/>
<rect x="28.42" y="216.52" width="3.23" height="3.26" fill="#fef0f0"/>
<rect x="32.35" y="216.52" width="3.23" height="3.26" fill="#28287e"/>
<rect x="36.28" y="216.52" width="3.23" height="3.26" fill="#f2f2f9"/>
<rect x="40.21" y="216.52" width="3.23" height="3.26" fill="#bebee0"/>
<rect x="44.14" y="216.52" width="3.23" height="3.26" fill="#e5e5f3"/>
<rect x="48.07" y="216.52" width="3.23" height="3.26" fill="#f2f2f9"/>
<rect x="12.7" y="220.48" width="3.23" height="3.26" fill="#ea585a"/>
<rect x="16.63" y="220.48" width="3.23" height="3.26" fill="#e85052"/>
<rect x="20.56" y="220.48" width="3.23" height="3.26" fill="#f9c5c5"/>
<rect x="24.49" y="220.48" width="3.23" height="3.26" fill="#fce2e2"/>
<rect x="28.42" y="220.48" width="3.23" height="3.26" fill="#fef0f0"/>
<rect x="32.35" y="220.48" width="3.23" height="3.26" fill="#5c5ca1"/>
<rect x="36.28" y="220.48" width="3.23" height="3.26" fill="#5c5ca1"/>
<rect x="40.21" y="220.48" width="3.23" height="3.26" fill="#d8d8ec"/>
<rect x="44.14" y="220.48" width="3.23" height="3.26" fill="#f2f2f9"/>
<rect x="48.07" y="220.48" width="3.23" height="3.26" fill="#f2f2f9"/>
<rect x="12.7" y="224.43" width="3.23" height="3.26" fill="#f6a6a6"/>
<rect x="16.63" y="224.43" width="3.23" height="3.26" fill="#fef0f0"/>
<rect x="20.56" y="224.43" width="3.23" height="3.26" fill="#fbd3d3"/>
<rect x="24.49" y="224.43" width="3.23" height="3.26" fill="#fbd3d3"/>
<rect x="28.42" y="224.43" width="3.23" height="3.26" fill="#de2027"/>
<rect x="32.35" y="224.43" width="3.23" height="3.26" fill="#afafd6"/>
<rect x="36.28" y="224.43" width="3.23" height="3.26" fill="#cbcbe6"/>
<rect x="40.21" y="224.43" width="3.23" height="3.26" fill="#afafd6"/>
<rect x="44.14" y="224.43" width="3.23" height="3.26" fill="#cbcbe6"/>
<rect x="48.07" y="224.43" width="3.23" height="3.26" fill="#6b6bab"/>
<rect x="12.7" y="228.39" width="3.23" height="3.26" fill="#fef0f0"/>
<rect x="16.63" y="228.39" width="3.23" height="3.26" fill="#fbd3d3"/>
<rect x="20.56" y="228.39" width="3.23" height="3.26" fill="#f18787"/>
<rect x="24.49" y="228.39" width="3.23" height="3.26" fill="#e6484b"/>
<rect x="28.42" y="228.39" width="3.23" height="3.26" fill="#fef0f0"/>
<rect x="32.35" y="228.39" width="3.23" height="3.26" fill="#f2f2f9"/>
<rect x="36.28" y="228.39" width="3.23" height="3.26" fill="#e5e5f3"/>
<rect x="40.21" y="228.39" width="3.23" height="3.26" fill="#7272b0"/>
<rect x="44.14" y="228.39" width="3.23" height="3.26" fill="#464692"/>
<rect x="48.07" y="228.39" width="3.23" height="3.26" fill="#e5e5f3"/>
<rect x="12.7" y="232.34" width="3.23" height="3.26" fill="#fef0f0"/>
<rect x="16.63" y="232.34" width="3.23" height="3.26" fill="#f2f2f9"/>
<rect x="20.56" y="232.34" width="3.23" height="3.26" fill="#fef0f0"/>
<rect x="24.49" y="232.34" width="3.23" height="3.26" fill="#f6a6a6"/>
<rect x="28.42" y="232.34" width="3.23" height="3.26" fill="#dc1820"/>
<rect x="32.35" y="232.34" width="3.23" height="3.26" fill="#e5e5f3"/>
<rect x="36.28" y="232.34" width="3.23" height="3.26" fill="#f2f2f9"/>
<rect x="40.21" y="232.34" width="3.23" height="3.26" fill="#d8d8ec"/>
<rect x="44.14" y="232.34" width="3.23" height="3.26" fill="#bebee0"/>
<rect x="48.07" y="232.34" width="3.23" height="3.26" fill="#5c5ca1"/>
<rect x="12.7" y="236.3" width="3.23" height="3.26" fill="#d8d8ec"/>
<rect x="16.63" y="236.3" width="3.23" height="3.26" fill="#e5e5f3"/>
<rect x="20.56" y="236.3" width="3.23" height="3.26" fill="#54549c"/>
<rect x="24.49" y="236.3" width="3.23" height="3.26" fill="#cbcbe6"/>
<rect x="28.42" y="236.3" width="3.23" height="3.26" fill="#6b6bab"/>
<rect x="32.35" y="236.3" width="3.23" height="3.26" fill="#fef0f0"/>
<rect x="36.28" y="236.3" width="3.23" height="3.26" fill="#fce2e2"/>
<rect x="40.21" y="236.3" width="3.23" height="3.26" fill="#e44044"/>
<rect x="44.14" y="236.3" width="3.23" height="3.26" fill="#f9c5c5"/>
<rect x="48.07" y="236.3" width="3.23" height="3.26" fill="#e85052"/>
<rect x="12.7" y="240.26" width="3.23" height="3.26" fill="#464692"/>
<rect x="16.63" y="240.26" width="3.23" height="3.26" fill="#f2f2f9"/>
<rect x="20.56" y="240.26" width="3.23" height="3.26" fill="#6b6bab"/>
<rect x="24.49" y="240.26" width="3.23" height="3.26" fill="#e5e5f3"/>
<rect x="28.42" y="240.26" width="3.23" height="3.26" fill="#d8d8ec"/>
<rect x="32.35" y="240.26" width="3.23" height="3.26" fill="#e44044"/>
<rect x="36.28" y="240.26" width="3.23" height="3.26" fill="#fce2e2"/>
<rect x="40.21" y="240.26" width="3.23" height="3.26" fill="#ef7878"/>
<rect x="44.14" y="240.26" width="3.23" height="3.26" fill="#fce2e2"/>
<rect x="48.07" y="240.26" width="3.23" height="3.26" fill="#f9c5c5"/>
<rect x="12.7" y="244.21" width="3.23" height="3.26" fill="#8181ba"/>
<rect x="16.63" y="244.21" width="3.23" height="3.26" fill="#f2f2f9"/>
<rect x="20.56" y="244.21" width="3.23" height="3.26" fill="#a0a0cd"/>
<rect x="24.49" y="244.21" width="3.23" height="3.26" fill="#afafd6"/>
<rect x="28.42" y="244.21" width="3.23" height="3.26" fill="#8181ba"/>
<rect x="32.35" y="244.21" width="3.23" height="3.26" fill="#f18787"/>
<rect x="36.28" y="244.21" width="3.23" height="3.26" fill="#ea585a"/>
<rect x="40.21" y="244.21" width="3.23" height="3.26" fill="#e85052"/>
<rect x="44.14" y="244.21" width="3.23" height="3.26" fill="#ffffff"/>
<rect x="48.07" y="244.21" width="3.23" height="3.26" fill="#fce2e2"/>
<rect x="12.7" y="248.17" width="3.23" height="3.26" fill="#9090c3"/>
<rect x="16.63" y="248.17" width="3.23" height="3.26" fill="#8181ba"/>
<rect x="20.56" y="248.17" width="3.23" height="3.26" fill="#464692"/>
<rect x="24.49" y="248.17" width="3.23" height="3.26" fill="#f2f2f9"/>
<rect x="28.42" y="248.17" width="3.23" height="3.26" fill="#f2f2f9"/>
<rect x="32.35" y="248.17" width="3.23" height="3.26" fill="#f6a6a6"/>
<rect x="36.28" y="248.17" width="3.23" height="3.26" fill="#f8b6b6"/>
<rect x="40.21" y="248.17" width="3.23" height="3.26" fill="#ea585a"/>
<rect x="44.14" y="248.17" width="3.23" height="3.26" fill="#fbd3d3"/>
<rect x="48.07" y="248.17" width="3.23" height="3.26" fill="#fce2e2"/>
<rect x="12.7" y="252.12" width="3.23" height="3.26" fill="#bebee0"/>
<rect x="16.63" y="252.12" width="3.23" height="3.26" fill="#afafd6"/>
<rect x="20.56" y="252.12" width="3.23" height="3.26" fill="#6363a6"/>
<rect x="24.49" y="252.12" width="3.23" height="3.26" fill="#9090c3"/>
<rect x="28.42" y="252.12" width="3.23" height="3.26" fill="#cbcbe6"/>
<rect x="32.35" y="252.12" width="3.23" height="3.26" fill="#fce2e2"/>
<rect x="36.28" y="252.12" width="3.23" height="3.26" fill="#f8b6b6"/>
<rect x="40.21" y="252.12" width="3.23" height="3.26" fill="#e6484b"/>
<rect x="44.14" y="252.12" width="3.23" height="3.26" fill="#ed6868"/>
<rect x="48.07" y="252.12" width="3.23" height="3.26" fill="#fce2e2"/>
<rect x="12.7" y="256.08" width="3.23" height="3.26" fill="#f2f2f9"/>
<rect x="16.63" y="256.08" width="3.23" height="3.26" fill="#5c5ca1"/>
<rect x="20.56" y="256.08" width="3.23" height="3.26" fill="#8181ba"/>
<rect x="24.49" y="256.08" width="3.23" height="3.26" fill="#9090c3"/>
<rect x="28.42" y="256.08" width="3.23" height="3.26" fill="#afafd6"/>
<rect x="32.35" y="256.08" width="3.23" height="3.26" fill="#fce2e2"/>
<rect x="36.28" y="256.08" width="3.23" height="3.26" fill="#e85052"/>
<rect x="40.21" y="256.08" width="3.23" height="3.26" fill="#f6a6a6"/>
<rect x="44.14" y="256.08" width="3.23" height="3.26" fill="#f8b6b6"/>
<rect x="48.07" y="256.08" width="3.23" height="3.26" fill="#fbd3d3"/>
<rect x="12.7" y="260.04" width="3.23" height="3.26" fill="#54549c"/>
<rect x="16.63" y="260.04" width="3.23" height="3.26" fill="#7272b0"/>
<rect x="20.56" y="260.04" width="3.23" height="3.26" fill="#bebee0"/>
<rect x="24.49" y="260.04" width="3.23" height="3.26" fill="#f2f2f9"/>
<rect x="28.42" y="260.04" width="3.23" height="3.26" fill="#f2f2f9"/>
<rect x="32.35" y="260.04" width="3.23" height="3.26" fill="#ea585a"/>
<rect x="36.28" y="260.04" width="3.23" height="3.26" fill="#ef7878"/>
<rect x="40.21" y="260.04" width="3.23" height="3.26" fill="#f9c5c5"/>
<rect x="44.14" y="260.04" width="3.23" height="3.26" fill="#fce2e2"/>
<rect x="48.07" y="260.04" width="3.23" height="3.26" fill="#fef0f0"/>
<rect x="12.7" y="263.99" width="3.23" height="3.26" fill="#464692"/>
<rect x="16.63" y="263.99" width="3.23" height="3.26" fill="#e5e5f3"/>
<rect x="20.56" y="263.99" width="3.23" height="3.26" fill="#e5e5f3"/>
<rect x="24.49" y="263.99" width="3.23" height="3.26" fill="#afafd6"/>
<rect x="28.42" y="263.99" width="3.23" height="3.26" fill="#8181ba"/>
<rect x="32.35" y="263.99" width="3.23" height="3.26" fill="#e44044"/>
<rect x="36.28" y="263.99" width="3.23" height="3.26" fill="#fef0f0"/>
<rect x="40.21" y="263.99" width="3.23" height="3.26" fill="#fef0f0"/>
<rect x="44.14" y="263.99" width="3.23" height="3.26" fill="#f18787"/>
<rect x="48.07" y="263.99" width="3.23" height="3.26" fill="#f18787"/>
<rect x="12.7" y="267.95" width="3.23" height="3.26" fill="#f2f2f9"/>
<rect x="16.63" y="267.95" width="3.23" height="3.26" fill="#bebee0"/>
<rect x="20.56" y="267.95" width="3.23" height="3.26" fill="#28287e"/>
<rect x="24.49" y="267.95" width="3.23" height="3.26" fill="#bebee0"/>
<rect x="28.42" y="267.95" width="3.23" height="3.26" fill="#d8d8ec"/>
<rect x="32.35" y="267.95" width="3.23" height="3.26" fill="#fef0f0"/>
<rect x="36.28" y="267.95" width="3.23" height="3.26" fill="#fbd3d3"/>
<rect x="40.21" y="267.95" width="3.23" height="3.26" fill="#e85052"/>
<rect x="44.14" y="267.95" width="3.23" height="3.26" fill="#f8b6b6"/>
<rect x="48.07" y="267.95" width="3.23" height="3.26" fill="#f8b6b6"/>
<rect x="12.7" y="271.9" width="3.23" height="3.26" fill="#a0a0cd"/>
<rect x="16.63" y="271.9" width="3.23" height="3.26" fill="#e5e5f3"/>
<rect x="20.56" y="271.9" width="3.23" height="3.26" fill="#d8d8ec"/>
<rect x="24.49" y="271.9" width="3.23" height="3.26" fill="#464692"/>
<rect x="28.42" y="271.9" width="3.23" height="3.26" fill="#cbcbe6"/>
<rect x="32.35" y="271.9" width="3.23" height="3.26" fill="#f6a6a6"/>
<rect x="36.28" y="271.9" width="3.23" height="3.26" fill="#fce2e2"/>
<rect x="40.21" y="271.9" width="3.23" height="3.26" fill="#fbd3d3"/>
<rect x="44.14" y="271.9" width="3.23" height="3.26" fill="#e85052"/>
<rect x="48.07" y="271.9" width="3.23" height="3.26" fill="#f6a6a6"/>
<rect x="12.7" y="275.86" width="3.23" height="3.26" fill="#7272b0"/>
<rect x="16.63" y="275.86" width="3.23" height="3.26" fill="#e5e5f3"/>
<rect x="20.56" y="275.86" width="3.23" height="3.26" fill="#373788"/>
<rect x="24.49" y="275.86" width="3.23" height="3.26" fill="#e5e5f3"/>
<rect x="28.42" y="275.86" width="3.23" height="3.26" fill="#f2f2f9"/>
<rect x="32.35" y="275.86" width="3.23" height="3.26" fill="#f6a6a6"/>
<rect x="36.28" y="275.86" width="3.23" height="3.26" fill="#fce2e2"/>
<rect x="40.21" y="275.86" width="3.23" height="3.26" fill="#ed6868"/>
<rect x="44.14" y="275.86" width="3.23" height="3.26" fill="#fbd3d3"/>
<rect x="48.07" y="275.86" width="3.23" height="3.26" fill="#f9c5c5"/>
<rect x="12.7" y="279.82" width="3.23" height="3.26" fill="#cbcbe6"/>
<rect x="16.63" y="279.82" width="3.23" height="3.26" fill="#5c5ca1"/>
<rect x="20.56" y="279.82" width="3.23" height="3.26" fill="#6b6bab"/>
<rect x="24.49" y="279.82" width="3.23" height="3.26" fill="#f2f2f9"/>
<rect x="28.42" y="279.82" width="3.23" height="3.26" fill="#f2f2f9"/>
<rect x="32.35" y="279.82" width="3.23" height="3.26" fill="#fbd3d3"/>
<rect x="36.28" y="279.82" width="3.23" height="3.26" fill="#e85052"/>
<rect x="40.21" y="279.82" width="3.23" height="3.26" fill="#e44044"/>
<rect x="44.14" y="279.82" width="3.23" height="3.26" fill="#fef0f0"/>
<rect x="48.07" y="279.82" width="3.23" height="3.26" fill="#fef0f0"/>
<rect x="12.7" y="283.77" width="3.23" height="3.26" fill="#28287e"/>
<rect x="16.63" y="283.77" width="3.23" height="3.26" fill="#f2f2f9"/>
<rect x="20.56" y="283.77" width="3.23" height="3.26" fill="#e5e5f3"/>
<rect x="24.49" y="283.77" width="3.23" height="3.26" fill="#e5e5f3"/>
<rect x="28.42" y="283.77" width="3.23" height="3.26" fill="#e5e5f3"/>
<rect x="32.35" y="283.77" width="3.23" height="3.26" fill="#de2027"/>
<rect x="36.28" y="283.77" width="3.23" height="3.26" fill="#fef0f0"/>
<rect x="40.21" y="283.77" width="3.23" height="3.26" fill="#fef0f0"/>
<rect x="44.14" y="283.77" width="3.23" height="3.26" fill="#fef0f0"/>
<rect x="48.07" y="283.77" width="3.23" height="3.26" fill="#fce2e2"/>
<rect x="12.7" y="287.73" width="3.23" height="3.26" fill="#afafd6"/>
<rect x="16.63" y="287.73" width="3.23" height="3.26" fill="#7272b0"/>
<rect x="20.56" y="287.73" width="3.23" height="3.26" fill="#28287e"/>
<rect x="24.49" y="287.73" width="3.23" height="3.26" fill="#f2f2f9"/>
<rect x="28.42" y="287.73" width="3.23" height="3.26" fill="#f2f2f9"/>
<rect x="32.35" y="287.73" width="3.23" height="3.26" fill="#fce2e2"/>
<rect x="36.28" y="287.73" width="3.23" height="3.26" fill="#f6a6a6"/>
<rect x="40.21" y="287.73" width="3.23" height="3.26" fill="#ef7878"/>
<rect x="44.14" y="287.73" width="3.23" height="3.26" fill="#f9c5c5"/>
<rect x="48.07" y="287.73" width="3.23" height="3.26" fill="#f8b6b6"/>
<rect x="12.7" y="291.68" width="3.23" height="3.26" fill="#7272b0"/>
<rect x="16.63" y="291.68" width="3.23" height="3.26" fill="#e5e5f3"/>
<rect x="20.56" y="291.68" width="3.23" height="3.26" fill="#373788"/>
<rect x="24.49" y="291.68" width="3.23" height="3.26" fill="#bebee0"/>
<rect x="28.42" y="291.68" width="3.23" height="3.26" fill="#f2f2f9"/>
<rect x="32.35" y="291.68" width="3.23" height="3.26" fill="#e6484b"/>
<rect x="36.28" y="291.68" width="3.23" height="3.26" fill="#fef0f0"/>
<rect x="40.21" y="291.68" width="3.23" height="3.26" fill="#f18787"/>
<rect x="44.14" y="291.68" width="3.23" height="3.26" fill="#f6a6a6"/>
<rect x="48.07" y="291.68" width="3.23" height="3.26" fill="#fbd3d3"/>
<rect x="12.7" y="295.64" width="3.23" height="3.26" fill="#8181ba"/>
<rect x="16.63" y="295.64" width="3.23" height="3.26" fill="#afafd6"/>
<rect x="20.56" y="295.64" width="3.23" height="3.26" fill="#373788"/>
<rect x="24.49" y="295.64" width="3.23" height="3.26" fill="#f2f2f9"/>
<rect x="28.42" y="295.64" width="3.23" height="3.26" fill="#f2f2f9"/>
<rect x="32.35" y="295.64" width="3.23" height="3.26" fill="#f6a6a6"/>
<rect x="36.28" y="295.64" width="3.23" height="3.26" fill="#f9c5c5"/>
<rect x="40.21" y="295.64" width="3.23" height="3.26" fill="#eb6061"/>
<rect x="44.14" y="295.64" width="3.23" height="3.26" fill="#f9c5c5"/>
<rect x="48.07" y="295.64" width="3.23" height="3.26" fill="#fce2e2"/>
<rect x="12.7" y="299.6" width="3.23" height="3.26" fill="#d8d8ec"/>
<rect x="16.63" y="299.6" width="3.23" height="3.26" fill="#afafd6"/>
<rect x="20.56" y="299.6" width="3.23" height="3.26" fill="#464692"/>
<rect x="24.49" y="299.6" width="3.23" height="3.26" fill="#d8d8ec"/>
<rect x="28.42" y="299.6" width="3.23" height="3.26" fill="#afafd6"/>
<rect x="32.35" y="299.6" width="3.23" height="3.26" fill="#fce2e2"/>
<rect x="36.28" y="299.6" width="3.23" height="3.26" fill="#f8b6b6"/>
<rect x="40.21" y="299.6" width="3.23" height="3.26" fill="#e44044"/>
<rect x="44.14" y="299.6" width="3.23" height="3.26" fill="#fce2e2"/>
<rect x="48.07" y="299.6" width="3.23" height="3.26" fill="#f9c5c5"/>
<rect x="12.7" y="303.55" width="3.23" height="3.26" fill="#7272b0"/>
<rect x="16.63" y="303.55" width="3.23" height="3.26" fill="#e5e5f3"/>
<rect x="20.56" y="303.55" width="3.23" height="3.26" fill="#373788"/>
<rect x="24.49" y="303.55" width="3.23" height="3.26" fill="#cbcbe6"/>
<rect x="28.42" y="303.55" width="3.23" height="3.26" fill="#f2f2f9"/>
<rect x="32.35" y="303.55" width="3.23" height="3.26" fill="#e6484b"/>
<rect x="36.28" y="303.55" width="3.23" height="3.26" fill="#fef0f0"/>
<rect x="40.21" y="303.55" width="3.23" height="3.26" fill="#f18787"/>
<rect x="44.14" y="303.55" width="3.23" height="3.26" fill="#f6a6a6"/>
<rect x="48.07" y="303.55" width="3.23" height="3.26" fill="#f6a6a6"/>
<rect x="12.7" y="307.51" width="3.23" height="3.26" fill="#e5e5f3"/>
<rect x="16.63" y="307.51" width="3.23" height="3.26" fill="#6363a6"/>
<rect x="20.56" y="307.51" width="3.23" height="3.26" fill="#afafd6"/>
<rect x="24.49" y="307.51" width="3.23" height="3.26" fill="#d8d8ec"/>
<rect x="28.42" y="307.51" width="3.23" height="3.26" fill="#a0a0cd"/>
<rect x="32.35" y="307.51" width="3.23" height="3.26" fill="#fef0f0"/>
<rect x="36.28" y="307.51" width="3.23" height="3.26" fill="#ea585a"/>
<rect x="40.21" y="307.51" width="3.23" height="3.26" fill="#eb6061"/>
<rect x="44.14" y="307.51" width="3.23" height="3.26" fill="#f9c5c5"/>
<rect x="48.07" y="307.51" width="3.23" height="3.26" fill="#f8b6b6"/>
<rect x="12.7" y="311.46" width="3.23" height="3.26" fill="#8181ba"/>
<rect x="16.63" y="311.46" width="3.23" height="3.26" fill="#d8d8ec"/>
<rect x="20.56" y="311.46" width="3.23" height="3.26" fill="#5c5ca1"/>
<rect x="24.49" y="311.46" width="3.23" height="3.26" fill="#e5e5f3"/>
<rect x="28.42" y="311.46" width="3.23" height="3.26" fill="#e5e5f3"/>
<rect x="32.35" y="311.46" width="3.23" height="3.26" fill="#f8b6b6"/>
<rect x="36.28" y="311.46" width="3.23" height="3.26" fill="#f6a6a6"/>
<rect x="40.21" y="311.46" width="3.23" height="3.26" fill="#f49797"/>
<rect x="44.14" y="311.46" width="3.23" height="3.26" fill="#fbd3d3"/>
<rect x="48.07" y="311.46" width="3.23" height="3.26" fill="#f8b6b6"/>
<rect x="12.7" y="315.42" width="3.23" height="3.26" fill="#a0a0cd"/>
<rect x="16.63" y="315.42" width="3.23" height="3.26" fill="#e5e5f3"/>
<rect x="20.56" y="315.42" width="3.23" height="3.26" fill="#28287e"/>
<rect x="24.49" y="315.42" width="3.23" height="3.26" fill="#f2f2f9"/>
<rect x="28.42" y="315.42" width="3.23" height="3.26" fill="#e5e5f3"/>
<rect x="32.35" y="315.42" width="3.23" height="3.26" fill="#fbd3d3"/>
<rect x="36.28" y="315.42" width="3.23" height="3.26" fill="#fef0f0"/>
<rect x="40.21" y="315.42" width="3.23" height="3.26" fill="#df282e"/>
<rect x="44.14" y="315.42" width="3.23" height="3.26" fill="#fce2e2"/>
<rect x="48.07" y="315.42" width="3.23" height="3.26" fill="#fbd3d3"/>
<rect x="12.7" y="319.38" width="3.23" height="3.26" fill="#5c5ca1"/>
<rect x="16.63" y="319.38" width="3.23" height="3.26" fill="#fef0f0"/>
<rect x="20.56" y="319.38" width="3.23" height="3.26" fill="#bebee0"/>
<rect x="24.49" y="319.38" width="3.23" height="3.26" fill="#a0a0cd"/>
<rect x="28.42" y="319.38" width="3.23" height="3.26" fill="#cbcbe6"/>
<rect x="32.35" y="319.38" width="3.23" height="3.26" fill="#e13036"/>
<rect x="36.28" y="319.38" width="3.23" height="3.26" fill="#f2f2f9"/>
<rect x="40.21" y="319.38" width="3.23" height="3.26" fill="#f9c5c5"/>
<rect x="44.14" y="319.38" width="3.23" height="3.26" fill="#f8b6b6"/>
<rect x="48.07" y="319.38" width="3.23" height="3.26" fill="#f9c5c5"/>
<rect x="12.7" y="323.33" width="3.23" height="3.26" fill="#7272b0"/>
<rect x="16.63" y="323.33" width="3.23" height="3.26" fill="#ffffff"/>
<rect x="20.56" y="323.33" width="3.23" height="3.26" fill="#464692"/>
<rect x="24.49" y="323.33" width="3.23" height="3.26" fill="#f2f2f9"/>
<rect x="28.42" y="323.33" width="3.23" height="3.26" fill="#f2f2f9"/>
<rect x="32.35" y="323.33" width="3.23" height="3.26" fill="#e13036"/>
<rect x="36.28" y="323.33" width="3.23" height="3.26" fill="#fbd3d3"/>
<rect x="40.21" y="323.33" width="3.23" height="3.26" fill="#eb6061"/>
<rect x="44.14" y="323.33" width="3.23" height="3.26" fill="#fef0f0"/>
<rect x="48.07" y="323.33" width="3.23" height="3.26" fill="#fce2e2"/>
<rect x="12.7" y="327.29" width="3.23" height="3.26" fill="#d8d8ec"/>
<rect x="16.63" y="327.29" width="3.23" height="3.26" fill="#7272b0"/>
<rect x="20.56" y="327.29" width="3.23" height="3.26" fill="#8181ba"/>
<rect x="24.49" y="327.29" width="3.23" height="3.26" fill="#f2f2f9"/>
<rect x="28.42" y="327.29" width="3.23" height="3.26" fill="#bebee0"/>
<rect x="32.35" y="327.29" width="3.23" height="3.26" fill="#fef0f0"/>
<rect x="36.28" y="327.29" width="3.23" height="3.26" fill="#ed6868"/>
<rect x="40.21" y="327.29" width="3.23" height="3.26" fill="#e13036"/>
<rect x="44.14" y="327.29" width="3.23" height="3.26" fill="#fef0f0"/>
<rect x="48.07" y="327.29" width="3.23" height="3.26" fill="#fbd3d3"/>
<rect x="12.7" y="331.24" width="3.23" height="3.26" fill="#a0a0cd"/>
<rect x="16.63" y="331.24" width="3.23" height="3.26" fill="#bebee0"/>
<rect x="20.56" y="331.24" width="3.23" height="3.26" fill="#3e3e8d"/>
<rect x="24.49" y="331.24" width="3.23" height="3.26" fill="#afafd6"/>
<rect x="28.42" y="331.24" width="3.23" height="3.26" fill="#f2f2f9"/>
<rect x="32.35" y="331.24" width="3.23" height="3.26" fill="#f18787"/>
<rect x="36.28" y="331.24" width="3.23" height="3.26" fill="#f8b6b6"/>
<rect x="40.21" y="331.24" width="3.23" height="3.26" fill="#f49797"/>
<rect x="44.14" y="331.24" width="3.23" height="3.26" fill="#ef7878"/>
<rect x="48.07" y="331.24" width="3.23" height="3.26" fill="#fbd3d3"/>
<rect x="12.7" y="335.2" width="3.23" height="3.26" fill="#d8d8ec"/>
<rect x="16.63" y="335.2" width="3.23" height="3.26" fill="#e5e5f3"/>
<rect x="20.56" y="335.2" width="3.23" height="3.26" fill="#afafd6"/>
<rect x="24.49" y="335.2" width="3.23" height="3.26" fill="#cbcbe6"/>
<rect x="28.42" y="335.2" width="3.23" height="3.26" fill="#373788"/>
<rect x="32.35" y="335.2" width="3.23" height="3.26" fill="#fef0f0"/>
<rect x="36.28" y="335.2" width="3.23" height="3.26" fill="#f18787"/>
<rect x="40.21" y="335.2" width="3.23" height="3.26" fill="#e85052"/>
<rect x="44.14" y="335.2" width="3.23" height="3.26" fill="#fce2e2"/>
<rect x="48.07" y="335.2" width="3.23" height="3.26" fill="#ed6868"/>
<rect x="12.7" y="339.16" width="3.23" height="3.26" fill="#f2f2f9"/>
<rect x="16.63" y="339.16" width="3.23" height="3.26" fill="#4d4d97"/>
<rect x="20.56" y="339.16" width="3.23" height="3.26" fill="#6363a6"/>
<rect x="24.49" y="339.16" width="3.23" height="3.26" fill="#e5e5f3"/>
<rect x="28.42" y="339.16" width="3.23" height="3.26" fill="#f2f2f9"/>
<rect x="32.35" y="339.16" width="3.23" height="3.26" fill="#fef0f0"/>
<rect x="36.28" y="339.16" width="3.23" height="3.26" fill="#eb6061"/>
<rect x="40.21" y="339.16" width="3.23" height="3.26" fill="#e85052"/>
<rect x="44.14" y="339.16" width="3.23" height="3.26" fill="#f6a6a6"/>
<rect x="48.07" y="339.16" width="3.23" height="3.26" fill="#fbd3d3"/>
<rect x="12.7" y="343.11" width="3.23" height="3.26" fill="#4d4d97"/>
<rect x="16.63" y="343.11" width="3.23" height="3.26" fill="#bebee0"/>
<rect x="20.56" y="343.11" width="3.23" height="3.26" fill="#9090c3"/>
<rect x="24.49" y="343.11" width="3.23" height="3.26" fill="#e5e5f3"/>
<rect x="28.42" y="343.11" width="3.23" height="3.26" fill="#cbcbe6"/>
<rect x="32.35" y="343.11" width="3.23" height="3.26" fill="#ea585a"/>
<rect x="36.28" y="343.11" width="3.23" height="3.26" fill="#f8b6b6"/>
<rect x="40.21" y="343.11" width="3.23" height="3.26" fill="#f18787"/>
<rect x="44.14" y="343.11" width="3.23" height="3.26" fill="#f9c5c5"/>
<rect x="48.07" y="343.11" width="3.23" height="3.26" fill="#f18787"/>
<rect x="12.7" y="347.07" width="3.23" height="3.26" fill="#464692"/>
<rect x="16.63" y="347.07" width="3.23" height="3.26" fill="#f2f2f9"/>
<rect x="20.56" y="347.07" width="3.23" height="3.26" fill="#bebee0"/>
<rect x="24.49" y="347.07" width="3.23" height="3.26" fill="#5c5ca1"/>
<rect x="28.42" y="347.07" width="3.23" height="3.26" fill="#e5e5f3"/>
<rect x="32.35" y="347.07" width="3.23" height="3.26" fill="#e44044"/>
<rect x="36.28" y="347.07" width="3.23" height="3.26" fill="#fce2e2"/>
<rect x="40.21" y="347.07" width="3.23" height="3.26" fill="#f6a6a6"/>
<rect x="44.14" y="347.07" width="3.23" height="3.26" fill="#f6a6a6"/>
<rect x="48.07" y="347.07" width="3.23" height="3.26" fill="#f9c5c5"/>
<rect x="12.7" y="351.02" width="3.23" height="3.26" fill="#e5e5f3"/>
<rect x="16.63" y="351.02" width="3.23" height="3.26" fill="#f8b6b6"/>
<rect x="20.56" y="351.02" width="3.23" height="3.26" fill="#bebee0"/>
<rect x="24.49" y="351.02" width="3.23" height="3.26" fill="#6b6bab"/>
<rect x="28.42" y="351.02" width="3.23" height="3.26" fill="#9090c3"/>
<rect x="32.35" y="351.02" width="3.23" height="3.26" fill="#fce2e2"/>
<rect x="36.28" y="351.02" width="3.23" height="3.26" fill="#cbcbe6"/>
<rect x="40.21" y="351.02" width="3.23" height="3.26" fill="#f8b6b6"/>
<rect x="44.14" y="351.02" width="3.23" height="3.26" fill="#ed6868"/>
<rect x="48.07" y="351.02" width="3.23" height="3.26" fill="#ed6868"/>
<rect x="12.7" y="354.98" width="3.23" height="3.26" fill="#cbcbe6"/>
<rect x="16.63" y="354.98" width="3.23" height="3.26" fill="#d8d8ec"/>
<rect x="20.56" y="354.98" width="3.23" height="3.26" fill="#7272b0"/>
<rect x="24.49" y="354.98" width="3.23" height="3.26" fill="#d8d8ec"/>
<rect x="28.42" y="354.98" width="3.23" height="3.26" fill="#d8d8ec"/>
<rect x="32.35" y="354.98" width="3.23" height="3.26" fill="#fef0f0"/>
<rect x="36.28" y="354.98" width="3.23" height="3.26" fill="#ef7878"/>
<rect x="40.21" y="354.98" width="3.23" height="3.26" fill="#df282e"/>
<rect x="44.14" y="354.98" width="3.23" height="3.26" fill="#fef0f0"/>
<rect x="48.07" y="354.98" width="3.23" height="3.26" fill="#fef0f0"/>
<rect x="12.7" y="358.94" width="3.23" height="3.26" fill="#e5e5f3"/>
<rect x="16.63" y="358.94" width="3.23" height="3.26" fill="#7272b0"/>
<rect x="20.56" y="358.94" width="3.23" height="3.26" fill="#6363a6"/>
<rect x="24.49" y="358.94" width="3.23" height="3.26" fill="#bebee0"/>
<rect x="28.42" y="358.94" width="3.23" height="3.26" fill="#cbcbe6"/>
<rect x="32.35" y="358.94" width="3.23" height="3.26" fill="#f9c5c5"/>
<rect x="36.28" y="358.94" width="3.23" height="3.26" fill="#eb6061"/>
<rect x="40.21" y="358.94" width="3.23" height="3.26" fill="#e85052"/>
<rect x="44.14" y="358.94" width="3.23" height="3.26" fill="#fce2e2"/>
<rect x="48.07" y="358.94" width="3.23" height="3.26" fill="#fbd3d3"/>
<rect x="12.7" y="362.89" width="3.23" height="3.26" fill="#8181ba"/>
<rect x="16.63" y="362.89" width="3.23" height="3.26" fill="#d8d8ec"/>
<rect x="20.56" y="362.89" width="3.23" height="3.26" fill="#afafd6"/>
<rect x="24.49" y="362.89" width="3.23" height="3.26" fill="#7272b0"/>
<rect x="28.42" y="362.89" width="3.23" height="3.26" fill="#f2f2f9"/>
<rect x="32.35" y="362.89" width="3.23" height="3.26" fill="#ed6868"/>
<rect x="36.28" y="362.89" width="3.23" height="3.26" fill="#fce2e2"/>
<rect x="40.21" y="362.89" width="3.23" height="3.26" fill="#fbd3d3"/>
<rect x="44.14" y="362.89" width="3.23" height="3.26" fill="#e85052"/>
<rect x="48.07" y="362.89" width="3.23" height="3.26" fill="#fef0f0"/>
<rect x="12.7" y="366.85" width="3.23" height="3.26" fill="#5c5ca1"/>
<rect x="16.63" y="366.85" width="3.23" height="3.26" fill="#f2f2f9"/>
<rect x="20.56" y="366.85" width="3.23" height="3.26" fill="#e5e5f3"/>
<rect x="24.49" y="366.85" width="3.23" height="3.26" fill="#cbcbe6"/>
<rect x="28.42" y="366.85" width="3.23" height="3.26" fill="#8181ba"/>
<rect x="32.35" y="366.85" width="3.23" height="3.26" fill="#dc1820"/>
<rect x="36.28" y="366.85" width="3.23" height="3.26" fill="#fef0f0"/>
<rect x="40.21" y="366.85" width="3.23" height="3.26" fill="#fef0f0"/>
<rect x="44.14" y="366.85" width="3.23" height="3.26" fill="#fce2e2"/>
<rect x="48.07" y="366.85" width="3.23" height="3.26" fill="#f6a6a6"/>
<rect x="12.7" y="370.8" width="3.23" height="3.26" fill="#5c5ca1"/>
<rect x="16.63" y="370.8" width="3.23" height="3.26" fill="#8181ba"/>
<rect x="20.56" y="370.8" width="3.23" height="3.26" fill="#8181ba"/>
<rect x="24.49" y="370.8" width="3.23" height="3.26" fill="#f2f2f9"/>
<rect x="28.42" y="370.8" width="3.23" height="3.26" fill="#e5e5f3"/>
<rect x="32.35" y="370.8" width="3.23" height="3.26" fill="#e6484b"/>
<rect x="36.28" y="370.8" width="3.23" height="3.26" fill="#f6a6a6"/>
<rect x="40.21" y="370.8" width="3.23" height="3.26" fill="#fbd3d3"/>
<rect x="44.14" y="370.8" width="3.23" height="3.26" fill="#f9c5c5"/>
<rect x="48.07" y="370.8" width="3.23" height="3.26" fill="#f9c5c5"/>
<rect x="12.7" y="374.76" width="3.23" height="3.26" fill="#a0a0cd"/>
<rect x="16.63" y="374.76" width="3.23" height="3.26" fill="#d8d8ec"/>
<rect x="20.56" y="374.76" width="3.23" height="3.26" fill="#8181ba"/>
<rect x="24.49" y="374.76" width="3.23" height="3.26" fill="#f2f2f9"/>
<rect x="28.42" y="374.76" width="3.23" height="3.26" fill="#6b6bab"/>
<rect x="32.35" y="374.76" width="3.23" height="3.26" fill="#f8b6b6"/>
<rect x="36.28" y="374.76" width="3.23" height="3.26" fill="#fbd3d3"/>
<rect x="40.21" y="374.76" width="3.23" height="3.26" fill="#ed6868"/>
<rect x="44.14" y="374.76" width="3.23" height="3.26" fill="#fef0f0"/>
<rect x="48.07" y="374.76" width="3.23" height="3.26" fill="#eb6061"/>
<rect x="12.7" y="378.72" width="3.23" height="3.26" fill="#bebee0"/>
<rect x="16.63" y="378.72" width="3.23" height="3.26" fill="#a0a0cd"/>
<rect x="20.56" y="378.72" width="3.23" height="3.26" fill="#54549c"/>
<rect x="24.49" y="378.72" width="3.23" height="3.26" fill="#e5e5f3"/>
<rect x="28.42" y="378.72" width="3.23" height="3.26" fill="#f2f2f9"/>
<rect x="32.35" y="378.72" width="3.23" height="3.26" fill="#fbd3d3"/>
<rect x="36.28" y="378.72" width="3.23" height="3.26" fill="#ef7878"/>
<rect x="40.21" y="378.72" width="3.23" height="3.26" fill="#e6484b"/>
<rect x="44.14" y="378.72" width="3.23" height="3.26" fill="#fef0f0"/>
<rect x="48.07" y="378.72" width="3.23" height="3.26" fill="#fef0f0"/>
<rect x="12.7" y="382.67" width="3.23" height="3.26" fill="#54549c"/>
<rect x="16.63" y="382.67" width="3.23" height="3.26" fill="#f2f2f9"/>
<rect x="20.56" y="382.67" width="3.23" height="3.26" fill="#54549c"/>
<rect x="24.49" y="382.67" width="3.23" height="3.26" fill="#f2f2f9"/>
<rect x="28.42" y="382.67" width="3.23" height="3.26" fill="#e5e5f3"/>
<rect x="32.35" y="382.67" width="3.23" height="3.26" fill="#ea585a"/>
<rect x="36.28" y="382.67" width="3.23" height="3.26" fill="#fef0f0"/>
<rect x="40.21" y="382.67" width="3.23" height="3.26" fill="#e6484b"/>
<rect x="44.14" y="382.67" width="3.23" height="3.26" fill="#fce2e2"/>
<rect x="48.07" y="382.67" width="3.23" height="3.26" fill="#fbd3d3"/>
<rect x="12.7" y="386.63" width="3.23" height="3.26" fill="#bebee0"/>
<rect x="16.63" y="386.63" width="3.23" height="3.26" fill="#e5e5f3"/>
<rect x="20.56" y="386.63" width="3.23" height="3.26" fill="#7272b0"/>
<rect x="24.49" y="386.63" width="3.23" height="3.26" fill="#6b6bab"/>
<rect x="28.42" y="386.63" width="3.23" height="3.26" fill="#cbcbe6"/>
<rect x="32.35" y="386.63" width="3.23" height="3.26" fill="#f6a6a6"/>
<rect x="36.28" y="386.63" width="3.23" height="3.26" fill="#fbd3d3"/>
<rect x="40.21" y="386.63" width="3.23" height="3.26" fill="#ef7878"/>
<rect x="44.14" y="386.63" width="3.23" height="3.26" fill="#ed6868"/>
<rect x="48.07" y="386.63" width="3.23" height="3.26" fill="#f8b6b6"/>
<rect x="12.7" y="390.58" width="3.23" height="3.26" fill="#e5e5f3"/>
<rect x="16.63" y="390.58" width="3.23" height="3.26" fill="#5c5ca1"/>
<rect x="20.56" y="390.58" width="3.23" height="3.26" fill="#9090c3"/>
<rect x="24.49" y="390.58" width="3.23" height="3.26" fill="#d8d8ec"/>
<rect x="28.42" y="390.58" width="3.23" height="3.26" fill="#a0a0cd"/>
<rect x="32.35" y="390.58" width="3.23" height="3.26" fill="#fef0f0"/>
<rect x="36.28" y="390.58" width="3.23" height="3.26" fill="#ed6868"/>
<rect x="40.21" y="390.58" width="3.23" height="3.26" fill="#f18787"/>
<rect x="44.14" y="390.58" width="3.23" height="3.26" fill="#fbd3d3"/>
<rect x="48.07" y="390.58" width="3.23" height="3.26" fill="#f18787"/>
<rect x="12.7" y="394.54" width="3.23" height="3.26" fill="#a0a0cd"/>
<rect x="16.63" y="394.54" width="3.23" height="3.26" fill="#a0a0cd"/>
<rect x="20.56" y="394.54" width="3.23" height="3.26" fill="#5c5ca1"/>
<rect x="24.49" y="394.54" width="3.23" height="3.26" fill="#9090c3"/>
<rect x="28.42" y="394.54" width="3.23" height="3.26" fill="#d8d8ec"/>
<rect x="32.35" y="394.54" width="3.23" height="3.26" fill="#fbd3d3"/>
<rect x="36.28" y="394.54" width="3.23" height="3.26" fill="#f6a6a6"/>
<rect x="40.21" y="394.54" width="3.23" height="3.26" fill="#ed6868"/>
<rect x="44.14" y="394.54" width="3.23" height="3.26" fill="#f49797"/>
<rect x="48.07" y="394.54" width="3.23" height="3.26" fill="#f9c5c5"/>
<rect x="12.7" y="398.5" width="3.23" height="3.26" fill="#9090c3"/>
<rect x="16.63" y="398.5" width="3.23" height="3.26" fill="#8181ba"/>
<rect x="20.56" y="398.5" width="3.23" height="3.26" fill="#bebee0"/>
<rect x="24.49" y="398.5" width="3.23" height="3.26" fill="#bebee0"/>
<rect x="28.42" y="398.5" width="3.23" height="3.26" fill="#d8d8ec"/>
<rect x="32.35" y="398.5" width="3.23" height="3.26" fill="#f9c5c5"/>
<rect x="36.28" y="398.5" width="3.23" height="3.26" fill="#e44044"/>
<rect x="40.21" y="398.5" width="3.23" height="3.26" fill="#ea585a"/>
<rect x="44.14" y="398.5" width="3.23" height="3.26" fill="#fef0f0"/>
<rect x="48.07" y="398.5" width="3.23" height="3.26" fill="#fef0f0"/>
<rect x="12.7" y="402.45" width="3.23" height="3.26" fill="#6363a6"/>
<rect x="16.63" y="402.45" width="3.23" height="3.26" fill="#e5e5f3"/>
<rect x="20.56" y="402.45" width="3.23" height="3.26" fill="#9090c3"/>
<rect x="24.49" y="402.45" width="3.23" height="3.26" fill="#cbcbe6"/>
<rect x="28.42" y="402.45" width="3.23" height="3.26" fill="#a0a0cd"/>
<rect x="32.35" y="402.45" width="3.23" height="3.26" fill="#ea585a"/>
<rect x="36.28" y="402.45" width="3.23" height="3.26" fill="#fce2e2"/>
<rect x="40.21" y="402.45" width="3.23" height="3.26" fill="#ed6868"/>
<rect x="44.14" y="402.45" width="3.23" height="3.26" fill="#fbd3d3"/>
<rect x="48.07" y="402.45" width="3.23" height="3.26" fill="#f49797"/>
<rect x="12.7" y="406.41" width="3.23" height="3.26" fill="#54549c"/>
<rect x="16.63" y="406.41" width="3.23" height="3.26" fill="#e5e5f3"/>
<rect x="20.56" y="406.41" width="3.23" height="3.26" fill="#5c5ca1"/>
<rect x="24.49" y="406.41" width="3.23" height="3.26" fill="#afafd6"/>
<rect x="28.42" y="406.41" width="3.23" height="3.26" fill="#d8d8ec"/>
<rect x="32.35" y="406.41" width="3.23" height="3.26" fill="#e85052"/>
<rect x="36.28" y="406.41" width="3.23" height="3.26" fill="#fce2e2"/>
<rect x="40.21" y="406.41" width="3.23" height="3.26" fill="#e6484b"/>
<rect x="44.14" y="406.41" width="3.23" height="3.26" fill="#f9c5c5"/>
<rect x="48.07" y="406.41" width="3.23" height="3.26" fill="#fbd3d3"/>
<rect x="12.7" y="410.36" width="3.23" height="3.26" fill="#6363a6"/>
<rect x="16.63" y="410.36" width="3.23" height="3.26" fill="#a0a0cd"/>
<rect x="20.56" y="410.36" width="3.23" height="3.26" fill="#a0a0cd"/>
<rect x="24.49" y="410.36" width="3.23" height="3.26" fill="#d8d8ec"/>
<rect x="28.42" y="410.36" width="3.23" height="3.26" fill="#a0a0cd"/>
<rect x="32.35" y="410.36" width="3.23" height="3.26" fill="#ed6868"/>
<rect x="36.28" y="410.36" width="3.23" height="3.26" fill="#f9c5c5"/>
<rect x="40.21" y="410.36" width="3.23" height="3.26" fill="#f8b6b6"/>
<rect x="44.14" y="410.36" width="3.23" height="3.26" fill="#f9c5c5"/>
<rect x="48.07" y="410.36" width="3.23" height="3.26" fill="#ed6868"/>
<rect x="12.7" y="414.32" width="3.23" height="3.26" fill="#e5e5f3"/>
<rect x="16.63" y="414.32" width="3.23" height="3.26" fill="#9090c3"/>
<rect x="20.56" y="414.32" width="3.23" height="3.26" fill="#9090c3"/>
<rect x="24.49" y="414.32" width="3.23" height="3.26" fill="#cbcbe6"/>
<rect x="28.42" y="414.32" width="3.23" height="3.26" fill="#9090c3"/>
<rect x="32.35" y="414.32" width="3.23" height="3.26" fill="#fef0f0"/>
<rect x="36.28" y="414.32" width="3.23" height="3.26" fill="#e3383d"/>
<rect x="40.21" y="414.32" width="3.23" height="3.26" fill="#f49797"/>
<rect x="44.14" y="414.32" width="3.23" height="3.26" fill="#f9c5c5"/>
<rect x="48.07" y="414.32" width="3.23" height="3.26" fill="#f8b6b6"/>
<rect x="12.7" y="418.28" width="3.23" height="3.26" fill="#afafd6"/>
<rect x="16.63" y="418.28" width="3.23" height="3.26" fill="#afafd6"/>
<rect x="20.56" y="418.28" width="3.23" height="3.26" fill="#7272b0"/>
<rect x="24.49" y="418.28" width="3.23" height="3.26" fill="#afafd6"/>
<rect x="28.42" y="418.28" width="3.23" height="3.26" fill="#a0a0cd"/>
<rect x="32.35" y="418.28" width="3.23" height="3.26" fill="#f9c5c5"/>
<rect x="36.28" y="418.28" width="3.23" height="3.26" fill="#f8b6b6"/>
<rect x="40.21" y="418.28" width="3.23" height="3.26" fill="#ea585a"/>
<rect x="44.14" y="418.28" width="3.23" height="3.26" fill="#f6a6a6"/>
<rect x="48.07" y="418.28" width="3.23" height="3.26" fill="#f49797"/>
<rect x="12.7" y="422.23" width="3.23" height="3.26" fill="#afafd6"/>
<rect x="16.63" y="422.23" width="3.23" height="3.26" fill="#bebee0"/>
<rect x="20.56" y="422.23" width="3.23" height="3.26" fill="#a0a0cd"/>
<rect x="24.49" y="422.23" width="3.23" height="3.26" fill="#afafd6"/>
<rect x="28.42" y="422.23" width="3.23" height="3.26" fill="#a0a0cd"/>
<rect x="32.35" y="422.23" width="3.23" height="3.26" fill="#ef7878"/>
<rect x="36.28" y="422.23" width="3.23" height="3.26" fill="#fbd3d3"/>
<rect x="40.21" y="422.23" width="3.23" height="3.26" fill="#f49797"/>
<rect x="44.14" y="422.23" width="3.23" height="3.26" fill="#f6a6a6"/>
<rect x="48.07" y="422.23" width="3.23" height="3.26" fill="#f49797"/>
<rect x="12.7" y="426.19" width="3.23" height="3.26" fill="#afafd6"/>
<rect x="16.63" y="426.19" width="3.23" height="3.26" fill="#cbcbe6"/>
<rect x="20.56" y="426.19" width="3.23" height="3.26" fill="#afafd6"/>
<rect x="24.49" y="426.19" width="3.23" height="3.26" fill="#a0a0cd"/>
<rect x="28.42" y="426.19" width="3.23" height="3.26" fill="#6b6bab"/>
<rect x="32.35" y="426.19" width="3.23" height="3.26" fill="#f49797"/>
<rect x="36.28" y="426.19" width="3.23" height="3.26" fill="#fbd3d3"/>
<rect x="40.21" y="426.19" width="3.23" height="3.26" fill="#f8b6b6"/>
<rect x="44.14" y="426.19" width="3.23" height="3.26" fill="#ef7878"/>
<rect x="48.07" y="426.19" width="3.23" height="3.26" fill="#ed6868"/>
<rect x="12.7" y="430.14" width="3.23" height="3.26" fill="#d8d8ec"/>
<rect x="16.63" y="430.14" width="3.23" height="3.26" fill="#7272b0"/>
<rect x="20.56" y="430.14" width="3.23" height="3.26" fill="#8181ba"/>
<rect x="24.49" y="430.14" width="3.23" height="3.26" fill="#9090c3"/>
<rect x="28.42" y="430.14" width="3.23" height="3.26" fill="#afafd6"/>
<rect x="32.35" y="430.14" width="3.23" height="3.26" fill="#fbd3d3"/>
<rect x="36.28" y="430.14" width="3.23" height="3.26" fill="#ef7878"/>
<rect x="40.21" y="430.14" width="3.23" height="3.26" fill="#ef7878"/>
<rect x="44.14" y="430.14" width="3.23" height="3.26" fill="#f8b6b6"/>
<rect x="48.07" y="430.14" width="3.23" height="3.26" fill="#f6a6a6"/>
<g class="gl" fill="#2a2a2a" stroke="#2a2a2a" stroke-width="0.1">
<text transform="translate(54.6,41.9) rotate(0.3) scale(1.18,1)">SLC16A14</text>
<text transform="translate(54.6,45.86) rotate(0.3) scale(1.18,1)">RAG2</text>
<text transform="translate(54.6,49.81) rotate(0.3) scale(1.18,1)">JCHAIN</text>
<text transform="translate(54.6,53.77) rotate(0.3) scale(1.18,1)">PRAT1</text>
<text transform="translate(54.6,57.72) rotate(0.3) scale(1.18,1)">SCN3A</text>
<text transform="translate(54.6,61.68) rotate(0.3) scale(1.18,1)">FAM30A</text>
<text transform="translate(54.6,65.64) rotate(0.3) scale(1.18,1)">PTPRB</text>
<text transform="translate(54.6,69.59) rotate(0.3) scale(1.18,1)">CDCA7</text>
<text transform="translate(54.6,73.55) rotate(0.3) scale(1.18,1)">OR2L1P</text>
<text transform="translate(54.6,77.5) rotate(0.3) scale(1.18,1)">POU2AF1</text>
<text transform="translate(54.6,81.46) rotate(0.3) scale(1.18,1)">PRO1804</text>
<text transform="translate(54.6,85.42) rotate(0.3) scale(1.18,1)">CD200</text>
<text transform="translate(54.6,89.37) rotate(0.3) scale(1.18,1)">CARMNT1-AS1</text>
<text transform="translate(54.6,93.33) rotate(0.3) scale(1.18,1)">CYP4F62P</text>
<text transform="translate(54.6,97.28) rotate(0.3) scale(1.18,1)">UGT1A6</text>
<text transform="translate(54.6,101.24) rotate(0.3) scale(1.18,1)">CLDN10</text>
<text transform="translate(54.6,105.2) rotate(0.3) scale(1.18,1)">SPINK2</text>
<text transform="translate(54.6,109.15) rotate(0.3) scale(1.18,1)">IGHV3-72</text>
<text transform="translate(54.6,113.11) rotate(0.3) scale(1.18,1)">KIAA0087</text>
<text transform="translate(54.6,117.06) rotate(0.3) scale(1.18,1)">PROM1</text>
<text transform="translate(54.6,121.02) rotate(0.3) scale(1.18,1)">RAG1</text>
<text transform="translate(54.6,124.98) rotate(0.3) scale(1.18,1)">ADGRG6</text>
<text transform="translate(54.6,128.93) rotate(0.3) scale(1.18,1)">NAP1L3</text>
<text transform="translate(54.6,132.89) rotate(0.3) scale(1.18,1)">KCNQ5</text>
<text transform="translate(54.6,136.84) rotate(0.3) scale(1.18,1)">ASPM</text>
<text transform="translate(54.6,140.8) rotate(0.3) scale(1.18,1)">MEIS1</text>
<text transform="translate(54.6,144.76) rotate(0.3) scale(1.18,1)">NEGR1</text>
<text transform="translate(54.6,148.71) rotate(0.3) scale(1.18,1)">MYO5C</text>
<text transform="translate(54.6,152.67) rotate(0.3) scale(1.18,1)">AL672167.1</text>
<text transform="translate(54.6,156.62) rotate(0.3) scale(1.18,1)">CD160</text>
<text transform="translate(54.6,160.58) rotate(0.3) scale(1.18,1)">ZNF442</text>
<text transform="translate(54.6,164.54) rotate(0.3) scale(1.18,1)">ZNF662</text>
<text transform="translate(54.6,168.49) rotate(0.3) scale(1.18,1)">PIK3R3</text>
<text transform="translate(54.6,172.45) rotate(0.3) scale(1.18,1)">GRSF2</text>
<text transform="translate(54.6,176.4) rotate(0.3) scale(1.18,1)">CLEM8</text>
<text transform="translate(54.6,180.36) rotate(0.3) scale(1.18,1)">HEMGN</text>
<text transform="translate(54.6,184.32) rotate(0.3) scale(1.18,1)">SMIM24</text>
<text transform="translate(54.6,188.27) rotate(0.3) scale(1.18,1)">PLCB1</text>
<text transform="translate(54.6,192.23) rotate(0.3) scale(1.18,1)">KLHL23</text>
<text transform="translate(54.6,196.18) rotate(0.3) scale(1.18,1)">CD52</text>
<text transform="translate(54.6,200.14) rotate(0.3) scale(1.18,1)">CA8</text>
<text transform="translate(54.6,204.1) rotate(0.3) scale(1.18,1)">GUCY1A1</text>
<text transform="translate(54.6,208.05) rotate(0.3) scale(1.18,1)">FLT3</text>
<text transform="translate(54.6,212.01) rotate(0.3) scale(1.18,1)">IGHM</text>
<text transform="translate(54.6,215.96) rotate(0.3) scale(1.18,1)">MALRD1</text>
<text transform="translate(54.6,219.92) rotate(0.3) scale(1.18,1)">CRDW1</text>
<text transform="translate(54.6,223.88) rotate(0.3) scale(1.18,1)">ZKSCN3</text>
<text transform="translate(54.6,227.83) rotate(0.3) scale(1.18,1)">CD34</text>
<text transform="translate(54.6,231.79) rotate(0.3) scale(1.18,1)">F13A1</text>
<text transform="translate(54.6,235.74) rotate(0.3) scale(1.18,1)">NUSC11</text>
<text transform="translate(54.6,239.7) rotate(0.3) scale(1.18,1)">HOXC4</text>
<text transform="translate(54.6,243.66) rotate(0.3) scale(1.18,1)">PLK5</text>
<text transform="translate(54.6,247.61) rotate(0.3) scale(1.18,1)">HEY1</text>
<text transform="translate(54.6,251.57) rotate(0.3) scale(1.18,1)">RGS1</text>
<text transform="translate(54.6,255.52) rotate(0.3) scale(1.18,1)">PHKNH1-AS1</text>
<text transform="translate(54.6,259.48) rotate(0.3) scale(1.18,1)">TNN28</text>
<text transform="translate(54.6,263.44) rotate(0.3) scale(1.18,1)">PRSS3</text>
<text transform="translate(54.6,267.39) rotate(0.3) scale(1.18,1)">FLRG1</text>
<text transform="translate(54.6,271.35) rotate(0.3) scale(1.18,1)">MMP8</text>
<text transform="translate(54.6,275.3) rotate(0.3) scale(1.18,1)">MAB21L3</text>
<text transform="translate(54.6,279.26) rotate(0.3) scale(1.18,1)">ALG14</text>
<text transform="translate(54.6,283.22) rotate(0.3) scale(1.18,1)">TAC1</text>
<text transform="translate(54.6,287.17) rotate(0.3) scale(1.18,1)">BAGE1</text>
<text transform="translate(54.6,291.13) rotate(0.3) scale(1.18,1)">CAMP</text>
<text transform="translate(54.6,295.08) rotate(0.3) scale(1.18,1)">RNOS1</text>
<text transform="translate(54.6,299.04) rotate(0.3) scale(1.18,1)">ANKS1</text>
<text transform="translate(54.6,303) rotate(0.3) scale(1.18,1)">CHST3</text>
<text transform="translate(54.6,306.95) rotate(0.3) scale(1.18,1)">PLOD2</text>
<text transform="translate(54.6,310.91) rotate(0.3) scale(1.18,1)">SPP2</text>
<text transform="translate(54.6,314.86) rotate(0.3) scale(1.18,1)">RTN2</text>
<text transform="translate(54.6,318.82) rotate(0.3) scale(1.18,1)">SERPIN1</text>
<text transform="translate(54.6,322.78) rotate(0.3) scale(1.18,1)">THRAP6</text>
<text transform="translate(54.6,326.73) rotate(0.3) scale(1.18,1)">LIL</text>
<text transform="translate(54.6,330.69) rotate(0.3) scale(1.18,1)">SASH1</text>
<text transform="translate(54.6,334.64) rotate(0.3) scale(1.18,1)">AKR1C3</text>
<text transform="translate(54.6,338.6) rotate(0.3) scale(1.18,1)">PADI1</text>
<text transform="translate(54.6,342.56) rotate(0.3) scale(1.18,1)">IFIT1</text>
<text transform="translate(54.6,346.51) rotate(0.3) scale(1.18,1)">CCL8</text>
<text transform="translate(54.6,350.47) rotate(0.3) scale(1.18,1)">MMP1</text>
<text transform="translate(54.6,354.42) rotate(0.3) scale(1.18,1)">CCL20</text>
<text transform="translate(54.6,358.38) rotate(0.3) scale(1.18,1)">CXCHD1</text>
<text transform="translate(54.6,362.34) rotate(0.3) scale(1.18,1)">CPB2-AS1</text>
<text transform="translate(54.6,366.29) rotate(0.3) scale(1.18,1)">CNOT6L22</text>
<text transform="translate(54.6,370.25) rotate(0.3) scale(1.18,1)">MMP13</text>
<text transform="translate(54.6,374.2) rotate(0.3) scale(1.18,1)">TGFB2</text>
<text transform="translate(54.6,378.16) rotate(0.3) scale(1.18,1)">IGF2</text>
<text transform="translate(54.6,382.12) rotate(0.3) scale(1.18,1)">PBK</text>
<text transform="translate(54.6,386.07) rotate(0.3) scale(1.18,1)">ASGL1</text>
<text transform="translate(54.6,390.03) rotate(0.3) scale(1.18,1)">PTX3</text>
<text transform="translate(54.6,393.98) rotate(0.3) scale(1.18,1)">NRP2</text>
<text transform="translate(54.6,397.94) rotate(0.3) scale(1.18,1)">OCSTAMP</text>
<text transform="translate(54.6,401.9) rotate(0.3) scale(1.18,1)">SFRP2</text>
<text transform="translate(54.6,405.85) rotate(0.3) scale(1.18,1)">IL6</text>
<text transform="translate(54.6,409.81) rotate(0.3) scale(1.18,1)">PRSS35</text>
<text transform="translate(54.6,413.76) rotate(0.3) scale(1.18,1)">CHI3L1</text>
<text transform="translate(54.6,417.72) rotate(0.3) scale(1.18,1)">NOX3</text>
<text transform="translate(54.6,421.68) rotate(0.3) scale(1.18,1)">SLC6A13</text>
<text transform="translate(54.6,425.63) rotate(0.3) scale(1.18,1)">ACKR1</text>
<text transform="translate(54.6,429.59) rotate(0.3) scale(1.18,1)">MUC1</text>
<text transform="translate(54.6,433.54) rotate(0.3) scale(1.18,1)">RAB3IP3L</text>
</g>
<defs><linearGradient id="zg" x1="0" y1="0" x2="0" y2="1"><stop offset="0" stop-color="#d20d18"/><stop offset="0.08" stop-color="#dc1820"/><stop offset="0.19" stop-color="#e44044"/><stop offset="0.29" stop-color="#ed6868"/><stop offset="0.4" stop-color="#f8b6b6"/><stop offset="0.5" stop-color="#ffffff"/><stop offset="0.61" stop-color="#bebee0"/><stop offset="0.71" stop-color="#7272b0"/><stop offset="0.82" stop-color="#4d4d97"/><stop offset="0.92" stop-color="#28287e"/><stop offset="1" stop-color="#212173"/></linearGradient></defs>
<rect x="91.3" y="27.2" width="8.2" height="126.3" fill="url(#zg)"/>
<text x="95.5" y="24.6" class="t8" text-anchor="middle">z score</text>
<text x="102.5" y="41.05" class="t85">2</text>
<text x="102.5" y="67.65" class="t85">1</text>
<text x="102.5" y="93.65" class="t85">0</text>
<text x="102.5" y="120.05" class="t85">−1</text>
<text x="102.5" y="147.05" class="t85">−2</text>
<rect x="115.4" y="35.6" width="11.9" height="11.7" fill="#3d7fc4"/>
<rect x="115.4" y="50.8" width="11.9" height="11.6" fill="#f0961e"/>
<text x="130.6" y="44.3" class="t75">Hypoxia</text>
<text x="130.6" y="59.5" class="t75">Normoxia</text>
<text x="176.2" y="12.2" class="pl">B</text>
<g fill="#d6e5c9" fill-opacity="0.7" stroke="#b5c2a8" stroke-width="0.6">
<ellipse cx="258.75" cy="46.5" rx="23.25" ry="31"/>
<ellipse cx="322.3" cy="45.5" rx="11.5" ry="21"/>
<ellipse cx="305" cy="73.75" rx="12.5" ry="11"/>
<ellipse cx="325.7" cy="86.6" rx="17.8" ry="8.9"/>
<ellipse cx="346.75" cy="63" rx="9.6" ry="8"/>
<ellipse cx="372" cy="43.5" rx="12" ry="12.5"/>
<ellipse cx="379" cy="58" rx="13" ry="9"/>
<ellipse cx="365" cy="72.4" rx="16" ry="16.4"/>
<ellipse cx="244.4" cy="108.75" rx="11.9" ry="12.5"/>
<ellipse cx="273.75" cy="115.9" rx="20" ry="19.6"/>
<ellipse cx="252.75" cy="151.9" rx="15.25" ry="9.4"/>
<ellipse cx="225" cy="162" rx="16.25" ry="16"/>
<ellipse cx="191.9" cy="165.8" rx="10.8" ry="11.6"/>
<ellipse cx="318.9" cy="122.5" rx="18.1" ry="18.75"/>
<ellipse cx="296.9" cy="154" rx="12.9" ry="16.6"/>
<ellipse cx="336.6" cy="155.1" rx="13.2" ry="15.1"/>
<ellipse cx="324.5" cy="171.5" rx="10.8" ry="11.4"/>
<ellipse cx="305.2" cy="181.9" rx="9.1" ry="10.2"/>
<ellipse cx="396" cy="157.5" rx="18" ry="13.4"/>
<ellipse cx="433.7" cy="144.2" rx="16.7" ry="9.6"/>
</g>
<g stroke="#78d0dc" stroke-width="0.45" fill="none">
<line x1="243.8" y1="28.5" x2="272.5" y2="53.6"/>
<line x1="243.8" y1="28.5" x2="257.7" y2="44"/>
<line x1="251.3" y1="36.8" x2="266.3" y2="48.7"/>
<line x1="249.4" y1="43.5" x2="269.8" y2="36.5"/>
<line x1="248.5" y1="50.4" x2="266.3" y2="42.5"/>
<line x1="248.5" y1="50.4" x2="272.5" y2="53.6"/>
<line x1="260.9" y1="37.1" x2="257.7" y2="51"/>
<line x1="254.8" y1="28.2" x2="249.4" y2="43.5"/>
<line x1="249.4" y1="43.5" x2="266.3" y2="48.7"/>
<line x1="251.3" y1="36.8" x2="248.5" y2="50.4"/>
<line x1="257.7" y1="51" x2="273.3" y2="72.3"/>
<line x1="273.3" y1="72.3" x2="273" y2="98"/>
<line x1="243.8" y1="28.5" x2="251.3" y2="36.8"/>
<line x1="260.9" y1="37.1" x2="272.5" y2="53.6"/>
<line x1="243.8" y1="28.5" x2="266.3" y2="42.5"/>
<line x1="243.8" y1="28.5" x2="260.9" y2="37.1"/>
<line x1="254.8" y1="28.2" x2="266.3" y2="48.7"/>
<line x1="249.4" y1="43.5" x2="272.5" y2="53.6"/>
<line x1="251.3" y1="36.8" x2="269.8" y2="36.5"/>
<line x1="248.5" y1="50.4" x2="260.9" y2="37.1"/>
<line x1="257.7" y1="44" x2="269.8" y2="36.5"/>
<line x1="257.7" y1="51" x2="266.3" y2="42.5"/>
<line x1="249.4" y1="43.5" x2="257.7" y2="51"/>
<line x1="243.8" y1="28.5" x2="248.5" y2="50.4"/>
<line x1="328" y1="36.5" x2="324.5" y2="46"/>
<line x1="324.5" y1="46" x2="321" y2="57"/>
<line x1="303.8" y1="70.5" x2="311.2" y2="79.2"/>
<line x1="299.8" y1="79.2" x2="311.2" y2="79.2"/>
<line x1="311.2" y1="79.2" x2="315.3" y2="67.8"/>
<line x1="311.2" y1="79.2" x2="326" y2="86.6"/>
<line x1="326" y1="86.6" x2="336.1" y2="82.6"/>
<line x1="316" y1="91.3" x2="326" y2="86.6"/>
<line x1="377" y1="36.5" x2="374" y2="47"/>
<line x1="374" y1="47" x2="370" y2="52"/>
<line x1="370" y1="52" x2="372.5" y2="60"/>
<line x1="372.5" y1="60" x2="386.5" y2="56.5"/>
<line x1="372.5" y1="60" x2="383" y2="64"/>
<line x1="379.5" y1="52" x2="386.5" y2="56.5"/>
<line x1="345.5" y1="60" x2="352" y2="62"/>
<line x1="352" y1="62" x2="356" y2="66.5"/>
<line x1="355.9" y1="65.9" x2="364.5" y2="75"/>
<line x1="362.2" y1="62.2" x2="364.5" y2="75"/>
<line x1="354.3" y1="74.3" x2="364.5" y2="75"/>
<line x1="355.3" y1="80.7" x2="364.5" y2="75"/>
<line x1="363.3" y1="83.3" x2="364.5" y2="75"/>
<line x1="370.7" y1="81.2" x2="364.5" y2="75"/>
<line x1="374.9" y1="74.9" x2="364.5" y2="75"/>
<line x1="370.7" y1="69.6" x2="364.5" y2="75"/>
<line x1="355.9" y1="65.9" x2="372.5" y2="60"/>
<line x1="362.2" y1="62.2" x2="372.5" y2="60"/>
<line x1="238.1" y1="111.4" x2="246" y2="108"/>
<line x1="253.1" y1="105.1" x2="262" y2="108"/>
<line x1="244.4" y1="115.1" x2="250" y2="113.9"/>
<line x1="250" y1="113.9" x2="258.1" y2="116.4"/>
<line x1="266" y1="111" x2="286.25" y2="105.1"/>
<line x1="266" y1="111" x2="288.75" y2="113.9"/>
<line x1="270" y1="114" x2="285.6" y2="122"/>
<line x1="268" y1="116" x2="276.9" y2="130.75"/>
<line x1="270.6" y1="100.75" x2="266" y2="108"/>
<line x1="258.1" y1="116.4" x2="264" y2="112"/>
<line x1="238.1" y1="111.4" x2="244.75" y2="101.4"/>
<line x1="244.75" y1="101.4" x2="250" y2="113.9"/>
<line x1="241.9" y1="105.5" x2="248.75" y2="110.5"/>
<line x1="244.4" y1="115.1" x2="246.25" y2="108.9"/>
<line x1="244" y1="150" x2="260" y2="148"/>
<line x1="252" y1="152" x2="250" y2="157"/>
<line x1="244" y1="150" x2="250" y2="157"/>
<line x1="260" y1="148" x2="252" y2="152"/>
<line x1="243" y1="155" x2="252" y2="152"/>
<line x1="214" y1="160" x2="232.5" y2="157"/>
<line x1="214" y1="160" x2="230" y2="168"/>
<line x1="225" y1="164" x2="234" y2="170"/>
<line x1="219" y1="170" x2="232.5" y2="157"/>
<line x1="222" y1="153" x2="225" y2="164"/>
<line x1="214" y1="160" x2="197.8" y2="168.5"/>
<line x1="219" y1="170" x2="197.8" y2="168.5"/>
<line x1="192" y1="159.5" x2="197.8" y2="168.5"/>
<line x1="192" y1="159.5" x2="187.4" y2="171.5"/>
<line x1="316" y1="107" x2="318" y2="130"/>
<line x1="314" y1="117" x2="323" y2="126"/>
<line x1="320" y1="113" x2="313" y2="127"/>
<line x1="322" y1="118" x2="310" y2="124"/>
<line x1="317" y1="123" x2="328" y2="124"/>
<line x1="318" y1="130" x2="331" y2="131"/>
<line x1="318" y1="130" x2="308" y2="132"/>
<line x1="316" y1="107" x2="322" y2="118"/>
<line x1="292.4" y1="145.5" x2="300.2" y2="162.9"/>
<line x1="297.3" y1="151.6" x2="291" y2="153.7"/>
<line x1="302.4" y1="150.5" x2="294.2" y2="158.3"/>
<line x1="303.3" y1="158.3" x2="297.3" y2="151.6"/>
<line x1="339.3" y1="146.1" x2="336.2" y2="157"/>
<line x1="344.4" y1="151.9" x2="336.2" y2="157"/>
<line x1="336.2" y1="157" x2="344" y2="163.8"/>
<line x1="328.9" y1="151" x2="336.2" y2="157"/>
<line x1="319.8" y1="172" x2="328.3" y2="176.6"/>
<line x1="329.4" y1="166.2" x2="336.2" y2="157"/>
<line x1="303.3" y1="174.8" x2="309.7" y2="185.7"/>
<line x1="299.7" y1="182" x2="309.7" y2="179"/>
<line x1="302.4" y1="188.1" x2="309.7" y2="179"/>
<line x1="303.3" y1="174.8" x2="299.7" y2="182"/>
<line x1="390" y1="148.2" x2="408.8" y2="164.8"/>
<line x1="384.5" y1="151.7" x2="401.2" y2="153.7"/>
<line x1="390" y1="148.2" x2="392.5" y2="163"/>
<line x1="392.5" y1="163" x2="402.9" y2="157.9"/>
<line x1="384.5" y1="151.7" x2="392.5" y2="163"/>
<line x1="401.2" y1="153.7" x2="392.5" y2="163"/>
<line x1="434.5" y1="138.5" x2="423" y2="143.5"/>
<line x1="434.5" y1="138.5" x2="425.3" y2="150.3"/>
<line x1="423" y1="143.5" x2="444.7" y2="147.5"/>
<line x1="425.3" y1="150.3" x2="444.7" y2="147.5"/>
</g>
<g fill="#8fdcea">
<ellipse cx="266" cy="111" rx="11" ry="10" opacity="0.33"/>
<ellipse cx="245.5" cy="108.5" rx="7" ry="8" opacity="0.27"/>
<ellipse cx="364.5" cy="75" rx="10" ry="9.5" opacity="0.3"/>
<ellipse cx="257" cy="43" rx="10" ry="11" opacity="0.21"/>
<ellipse cx="318" cy="120" rx="7" ry="11" opacity="0.21"/>
<ellipse cx="297" cy="153" rx="6" ry="8" opacity="0.18"/>
<ellipse cx="336" cy="155" rx="6" ry="7" opacity="0.18"/>
</g>
<g stroke="#5ccfe4" stroke-width="0.35" fill="none" opacity="0.8">
<line x1="263.01" y1="105.26" x2="264.87" y2="104.05"/>
<line x1="263.01" y1="105.26" x2="262.42" y2="105.16"/>
<line x1="263.01" y1="105.26" x2="266.81" y2="103.94"/>
<line x1="263.01" y1="105.26" x2="265.81" y2="103.59"/>
<line x1="263.01" y1="105.26" x2="264.56" y2="108.38"/>
<line x1="258.73" y1="111.04" x2="261.3" y2="112.41"/>
<line x1="258.49" y1="110.61" x2="262.84" y2="111.78"/>
<line x1="258.49" y1="110.61" x2="262.83" y2="113.43"/>
<line x1="258.49" y1="110.61" x2="258.53" y2="113.52"/>
<line x1="258.49" y1="110.61" x2="257.88" y2="109.93"/>
<line x1="264.87" y1="104.05" x2="265.81" y2="103.59"/>
<line x1="264.72" y1="115.4" x2="262.74" y2="115.24"/>
<line x1="264.72" y1="115.4" x2="261" y2="113.21"/>
<line x1="264.72" y1="115.4" x2="262.84" y2="111.78"/>
<line x1="261.3" y1="112.41" x2="265.14" y2="111.24"/>
<line x1="267.31" y1="108.95" x2="262.84" y2="111.78"/>
<line x1="267.31" y1="108.95" x2="270.5" y2="111.6"/>
<line x1="267.31" y1="108.95" x2="262.34" y2="108.79"/>
<line x1="267.31" y1="108.95" x2="270.56" y2="104.94"/>
<line x1="267.31" y1="108.95" x2="265.14" y2="111.24"/>
<line x1="262.42" y1="105.16" x2="262.34" y2="108.79"/>
<line x1="262.74" y1="115.24" x2="261" y2="113.21"/>
<line x1="262.74" y1="115.24" x2="261.65" y2="111.62"/>
<line x1="267.39" y1="112.58" x2="262.84" y2="111.78"/>
<line x1="267.39" y1="112.58" x2="264.61" y2="114.36"/>
<line x1="267.39" y1="112.58" x2="270.5" y2="111.6"/>
<line x1="267.39" y1="112.58" x2="262.83" y2="113.43"/>
<line x1="267.39" y1="112.58" x2="264.15" y2="116.07"/>
<line x1="267.39" y1="112.58" x2="264.56" y2="108.38"/>
<line x1="266.81" y1="103.94" x2="265.81" y2="103.59"/>
<line x1="261" y1="113.21" x2="262.84" y2="111.78"/>
<line x1="261" y1="113.21" x2="262.83" y2="113.43"/>
<line x1="261" y1="113.21" x2="258.53" y2="113.52"/>
<line x1="261" y1="113.21" x2="262.34" y2="108.79"/>
<line x1="261" y1="113.21" x2="264.15" y2="116.07"/>
<line x1="261" y1="113.21" x2="265.14" y2="111.24"/>
<line x1="262.84" y1="111.78" x2="262.83" y2="113.43"/>
<line x1="262.84" y1="111.78" x2="267.36" y2="109.84"/>
<line x1="262.84" y1="111.78" x2="264.15" y2="116.07"/>
<line x1="262.84" y1="111.78" x2="265.14" y2="111.24"/>
<line x1="262.6" y1="114.92" x2="264.61" y2="114.36"/>
<line x1="262.6" y1="114.92" x2="265.14" y2="111.24"/>
<line x1="261.65" y1="111.62" x2="262.83" y2="113.43"/>
<line x1="261.65" y1="111.62" x2="257.88" y2="109.93"/>
<line x1="261.65" y1="111.62" x2="264.56" y2="108.38"/>
<line x1="272.38" y1="113.94" x2="270.5" y2="111.6"/>
<line x1="272.38" y1="113.94" x2="271.43" y2="115.96"/>
<line x1="264.61" y1="114.36" x2="262.83" y2="113.43"/>
<line x1="264.61" y1="114.36" x2="267.36" y2="109.84"/>
<line x1="264.61" y1="114.36" x2="264.15" y2="116.07"/>
<line x1="264.61" y1="114.36" x2="265.14" y2="111.24"/>
<line x1="265.81" y1="103.59" x2="270.56" y2="104.94"/>
<line x1="265.81" y1="103.59" x2="264.56" y2="108.38"/>
<line x1="270.5" y1="111.6" x2="273.56" y2="110.11"/>
<line x1="270.5" y1="111.6" x2="271.43" y2="115.96"/>
<line x1="262.83" y1="113.43" x2="258.53" y2="113.52"/>
<line x1="262.83" y1="113.43" x2="262.34" y2="108.79"/>
<line x1="262.83" y1="113.43" x2="264.15" y2="116.07"/>
<line x1="262.83" y1="113.43" x2="265.14" y2="111.24"/>
<line x1="267.36" y1="109.84" x2="265.14" y2="111.24"/>
<line x1="262.34" y1="108.79" x2="257.88" y2="109.93"/>
<line x1="242.59" y1="105.28" x2="246.71" y2="103.25"/>
<line x1="245.36" y1="109.57" x2="244.53" y2="107.29"/>
<line x1="244.32" y1="109.3" x2="247.21" y2="108.69"/>
<line x1="244.32" y1="109.3" x2="248.02" y2="112.99"/>
<line x1="244.32" y1="109.3" x2="244.53" y2="107.29"/>
<line x1="247.21" y1="108.69" x2="248.02" y2="112.99"/>
<line x1="247.21" y1="108.69" x2="244.53" y2="107.29"/>
<line x1="247.21" y1="108.69" x2="246.71" y2="103.25"/>
<line x1="244.53" y1="107.29" x2="246.71" y2="103.25"/>
<line x1="244.53" y1="107.29" x2="242.88" y2="104.45"/>
<line x1="246.71" y1="103.25" x2="242.88" y2="104.45"/>
<line x1="362.73" y1="69.31" x2="362.52" y2="73.37"/>
<line x1="362.73" y1="69.31" x2="365.06" y2="69.32"/>
<line x1="365.98" y1="70.78" x2="362.52" y2="73.37"/>
<line x1="365.98" y1="70.78" x2="368.78" y2="70.94"/>
<line x1="365.98" y1="70.78" x2="367.05" y2="72.13"/>
<line x1="362.52" y1="73.37" x2="364.06" y2="74.81"/>
<line x1="362.52" y1="73.37" x2="365.06" y2="69.32"/>
<line x1="362.52" y1="73.37" x2="367.05" y2="72.13"/>
<line x1="362.52" y1="73.37" x2="360.17" y2="78.26"/>
<line x1="362.52" y1="73.37" x2="362.62" y2="69.35"/>
<line x1="364.06" y1="74.81" x2="359.33" y2="73.11"/>
<line x1="364.06" y1="74.81" x2="367.05" y2="72.13"/>
<line x1="364.06" y1="74.81" x2="360.17" y2="78.26"/>
<line x1="368.78" y1="70.94" x2="368.13" y2="72.96"/>
<line x1="370.36" y1="75.34" x2="367.05" y2="72.13"/>
<line x1="370.36" y1="75.34" x2="367.62" y2="71.72"/>
<line x1="367.05" y1="72.13" x2="367.62" y2="71.72"/>
<line x1="315.43" y1="124.63" x2="316.8" y2="120.78"/>
<line x1="315.43" y1="124.63" x2="317.47" y2="125.95"/>
<line x1="317.17" y1="118.42" x2="319.8" y2="114.72"/>
<line x1="317.17" y1="118.42" x2="316.8" y2="120.78"/>
</g>
<g fill="#2c9ccd" stroke="#4fc8e6" stroke-width="0.4">
<circle cx="263.01" cy="105.26" r="1.69"/>
<circle cx="258.73" cy="111.04" r="1.43"/>
<circle cx="258.49" cy="110.61" r="1.13"/>
<circle cx="264.87" cy="104.05" r="1.18"/>
<circle cx="264.72" cy="115.4" r="1.21"/>
<circle cx="261.3" cy="112.41" r="1.95"/>
<circle cx="267.31" cy="108.95" r="1.98"/>
<circle cx="262.42" cy="105.16" r="1.21"/>
<circle cx="262.74" cy="115.24" r="1.26"/>
<circle cx="267.39" cy="112.58" r="1.44"/>
<circle cx="266.81" cy="103.94" r="1.15"/>
<circle cx="261" cy="113.21" r="1.48"/>
<circle cx="262.84" cy="111.78" r="1.51"/>
<circle cx="262.6" cy="114.92" r="1.73"/>
<circle cx="261.65" cy="111.62" r="1.57"/>
<circle cx="272.38" cy="113.94" r="1.36"/>
<circle cx="264.61" cy="114.36" r="1.24"/>
<circle cx="265.81" cy="103.59" r="1.7"/>
<circle cx="270.5" cy="111.6" r="1.89"/>
<circle cx="262.83" cy="113.43" r="1.63"/>
<circle cx="267.36" cy="109.84" r="1.86"/>
<circle cx="273.56" cy="110.11" r="1.7"/>
<circle cx="258.53" cy="113.52" r="1.68"/>
<circle cx="262.34" cy="108.79" r="1.7"/>
<circle cx="257.88" cy="109.93" r="1.25"/>
<circle cx="270.56" cy="104.94" r="1.32"/>
<circle cx="264.15" cy="116.07" r="1.17"/>
<circle cx="265.14" cy="111.24" r="1.9"/>
<circle cx="271.43" cy="115.96" r="1.35"/>
<circle cx="264.56" cy="108.38" r="1.9"/>
<circle cx="242.59" cy="105.28" r="1.04"/>
<circle cx="245.36" cy="109.57" r="1.06"/>
<circle cx="244.32" cy="109.3" r="1.47"/>
<circle cx="247.21" cy="108.69" r="1.27"/>
<circle cx="247.09" cy="103.15" r="1.44"/>
<circle cx="248.02" cy="112.99" r="1.38"/>
<circle cx="244.53" cy="107.29" r="0.96"/>
<circle cx="246.71" cy="103.25" r="0.94"/>
<circle cx="242.88" cy="104.45" r="1.1"/>
<circle cx="362.73" cy="69.31" r="1.61"/>
<circle cx="365.98" cy="70.78" r="1.18"/>
<circle cx="362.52" cy="73.37" r="1.09"/>
<circle cx="364.06" cy="74.81" r="1.06"/>
<circle cx="359.33" cy="73.11" r="1.19"/>
<circle cx="368.78" cy="70.94" r="1.02"/>
<circle cx="370.36" cy="75.34" r="1.1"/>
<circle cx="365.06" cy="69.32" r="1.37"/>
<circle cx="367.05" cy="72.13" r="1.26"/>
<circle cx="360.17" cy="78.26" r="1.37"/>
<circle cx="368.13" cy="72.96" r="1.16"/>
<circle cx="369.08" cy="78.67" r="1.57"/>
<circle cx="367.62" cy="71.72" r="1.36"/>
<circle cx="362.62" cy="69.35" r="1.02"/>
<circle cx="253.91" cy="39.63" r="1.15"/>
<circle cx="263.39" cy="42.26" r="1.27"/>
<circle cx="255.1" cy="39.09" r="0.91"/>
<circle cx="252.75" cy="38.86" r="1.11"/>
<circle cx="256.71" cy="45.14" r="1.2"/>
<circle cx="251.19" cy="45.25" r="1.25"/>
<circle cx="320.26" cy="124" r="1.19"/>
<circle cx="315.43" cy="124.63" r="1.1"/>
<circle cx="317.17" cy="118.42" r="1.47"/>
<circle cx="319.8" cy="114.72" r="0.98"/>
<circle cx="320.45" cy="114.34" r="1.4"/>
<circle cx="316.8" cy="120.78" r="0.98"/>
<circle cx="319.2" cy="120.43" r="1.46"/>
<circle cx="317.47" cy="125.95" r="1.4"/>
</g>
<g fill="#5a9c9a" stroke="#62cad6" stroke-width="0.5">
<circle cx="243.8" cy="28.5" r="2.43"/>
<circle cx="254.8" cy="28.2" r="1.32"/>
<circle cx="251.3" cy="36.8" r="1.69"/>
<circle cx="260.9" cy="37.1" r="1.5"/>
<circle cx="269.8" cy="36.5" r="1.5"/>
<circle cx="249.4" cy="43.5" r="2.5"/>
<circle cx="257.7" cy="44" r="1.5"/>
<circle cx="266.3" cy="42.5" r="1.5"/>
<circle cx="248.5" cy="50.4" r="2.25"/>
<circle cx="257.7" cy="51" r="1.5"/>
<circle cx="266.3" cy="48.7" r="1.5"/>
<circle cx="272.5" cy="53.6" r="1.75"/>
<circle cx="273.3" cy="72.3" r="1.5"/>
<circle cx="328" cy="36.5" r="1.26"/>
<circle cx="324.5" cy="46" r="1.38"/>
<circle cx="321" cy="57" r="1.19"/>
<circle cx="303.8" cy="70.5" r="1.38"/>
<circle cx="299.8" cy="79.2" r="1.26"/>
<circle cx="311.2" cy="79.2" r="2.06"/>
<circle cx="326" cy="86.6" r="1.81"/>
<circle cx="336.1" cy="82.6" r="1.19"/>
<circle cx="316" cy="91.3" r="1.19"/>
<circle cx="315.3" cy="67.8" r="1.32"/>
<circle cx="345.5" cy="60" r="1.32"/>
<circle cx="352" cy="62" r="1.19"/>
<circle cx="377" cy="36.5" r="1.26"/>
<circle cx="374" cy="47" r="1.44"/>
<circle cx="370" cy="52" r="1.38"/>
<circle cx="372.5" cy="60" r="2.43"/>
<circle cx="386.5" cy="56.5" r="1.44"/>
<circle cx="383" cy="64" r="1.26"/>
<circle cx="379.5" cy="52" r="1.32"/>
<circle cx="355.9" cy="65.9" r="1.57"/>
<circle cx="362.2" cy="62.2" r="1.57"/>
<circle cx="354.3" cy="74.3" r="1.38"/>
<circle cx="355.3" cy="80.7" r="1.57"/>
<circle cx="363.3" cy="83.3" r="1.38"/>
<circle cx="370.7" cy="81.2" r="1.38"/>
<circle cx="374.9" cy="74.9" r="1.38"/>
<circle cx="370.7" cy="69.6" r="1.26"/>
<circle cx="238.1" cy="111.4" r="2.06"/>
<circle cx="244.4" cy="115.1" r="1.38"/>
<circle cx="250" cy="113.9" r="1.38"/>
<circle cx="253.1" cy="105.1" r="1.69"/>
<circle cx="270.6" cy="100.75" r="1.81"/>
<circle cx="258.1" cy="116.4" r="2"/>
<circle cx="275" cy="112" r="1.69"/>
<circle cx="273.1" cy="116.4" r="1.57"/>
<circle cx="266.25" cy="120.1" r="1.57"/>
<circle cx="286.25" cy="105.1" r="1.26"/>
<circle cx="288.75" cy="113.9" r="1.26"/>
<circle cx="285.6" cy="122" r="1.26"/>
<circle cx="276.9" cy="130.75" r="1.38"/>
<circle cx="244" cy="150" r="1.57"/>
<circle cx="252" cy="152" r="1.38"/>
<circle cx="260" cy="148" r="1.94"/>
<circle cx="250" cy="157" r="1.38"/>
<circle cx="243" cy="155" r="1.26"/>
<circle cx="214" cy="160" r="1.69"/>
<circle cx="222" cy="153" r="1.26"/>
<circle cx="232.5" cy="157" r="2.43"/>
<circle cx="225" cy="164" r="1.32"/>
<circle cx="230" cy="168" r="1.38"/>
<circle cx="219" cy="170" r="1.38"/>
<circle cx="234" cy="170" r="1.32"/>
<circle cx="192" cy="159.5" r="1.44"/>
<circle cx="197.8" cy="168.5" r="1.44"/>
<circle cx="187.4" cy="171.5" r="1.26"/>
<circle cx="316" cy="107" r="1.88"/>
<circle cx="320" cy="113" r="1.44"/>
<circle cx="314" cy="117" r="1.69"/>
<circle cx="322" cy="118" r="1.44"/>
<circle cx="317" cy="123" r="1.57"/>
<circle cx="323" cy="126" r="1.69"/>
<circle cx="313" cy="127" r="1.44"/>
<circle cx="318" cy="130" r="2.19"/>
<circle cx="310" cy="124" r="1.44"/>
<circle cx="328" cy="124" r="1.32"/>
<circle cx="317" cy="135" r="1.32"/>
<circle cx="308" cy="132" r="1.26"/>
<circle cx="331" cy="131" r="1.26"/>
<circle cx="292.4" cy="145.5" r="2.06"/>
<circle cx="297.3" cy="151.6" r="1.38"/>
<circle cx="302.4" cy="150.5" r="1.38"/>
<circle cx="291" cy="153.7" r="1.38"/>
<circle cx="294.2" cy="158.3" r="1.69"/>
<circle cx="303.3" cy="158.3" r="1.69"/>
<circle cx="300.2" cy="162.9" r="1.81"/>
<circle cx="339.3" cy="146.1" r="1.26"/>
<circle cx="344.4" cy="151.9" r="1.26"/>
<circle cx="336.2" cy="157" r="2.31"/>
<circle cx="344" cy="163.8" r="1.38"/>
<circle cx="328.9" cy="151" r="1.38"/>
<circle cx="319.8" cy="172" r="2.06"/>
<circle cx="328.3" cy="176.6" r="1.75"/>
<circle cx="329.4" cy="166.2" r="1.38"/>
<circle cx="303.3" cy="174.8" r="1.26"/>
<circle cx="309.7" cy="179" r="1.26"/>
<circle cx="299.7" cy="182" r="1.26"/>
<circle cx="309.7" cy="185.7" r="1.26"/>
<circle cx="302.4" cy="188.1" r="1.26"/>
<circle cx="390" cy="148.2" r="1.26"/>
<circle cx="401.2" cy="153.7" r="1.26"/>
<circle cx="384.5" cy="151.7" r="1.26"/>
<circle cx="408.8" cy="164.8" r="1.26"/>
<circle cx="392.5" cy="163" r="1.26"/>
<circle cx="402.9" cy="157.9" r="1.26"/>
<circle cx="434.5" cy="138.5" r="1.26"/>
<circle cx="423" cy="143.5" r="1.26"/>
<circle cx="444.7" cy="147.5" r="1.26"/>
<circle cx="425.3" cy="150.3" r="1.26"/>
</g>
<g class="t5" text-anchor="middle" fill="#222" stroke="#222" stroke-width="0.1">
<text x="258.3" y="4.3">vacuole</text>
<text x="260.6" y="9.6">autophagosome</text>
<text x="261.4" y="15.1">macroautophagy</text>
<text x="323" y="13.2">compartments</text>
<text x="323" y="18.7">early</text>
<text x="323" y="23.9">retromer</text>
<text x="297.1" y="52.7">late</text>
<text x="297.1" y="58">endosome</text>
<text x="297.8" y="63.4">endosomal</text>
<text x="328" y="66.1">endomembrane</text>
<text x="327.4" y="71.7">system</text>
<text x="326.2" y="76.9">organization</text>
<text x="348.75" y="42.7">ubiquitin</text>
<text x="348.75" y="48.2">specific</text>
<text x="348.75" y="53.7">protease</text>
<text x="371" y="18.7">ubiquilin</text>
<text x="371" y="24">erad</text>
<text x="371" y="29.3">deglycosylation</text>
<text x="406" y="55">proteasomal</text>
<text x="406" y="60.7">catabolic</text>
<text x="406" y="65.9">process</text>
<text x="389" y="78">peptide</text>
<text x="389" y="83.7">antigen</text>
<text x="389" y="89.2">mhc</text>
<text x="227" y="83.7">translational</text>
<text x="227" y="89.5">termination</text>
<text x="227" y="95.3">mitochondrial</text>
<text x="274.5" y="89.7">electron</text>
<text x="274.5" y="95.3">chain gsea</text>
<text x="253" y="129.7">coenzyme</text>
<text x="253" y="135">process</text>
<text x="253" y="140.3">thioester</text>
<text x="223.75" y="132.9">phospholipid</text>
<text x="223.75" y="138.3">biosynthetic</text>
<text x="223.75" y="143.7">process</text>
<text x="190" y="139.9">sphingolipid</text>
<text x="190" y="145.7">metabolic</text>
<text x="190" y="151.5">lipid</text>
<text x="323.4" y="103.7">cards vesicle golgi</text>
<text x="282" y="145.9">apoptotic</text>
<text x="282" y="150.6">signaling</text>
<text x="282" y="155.4">dna</text>
<text x="324" y="147.5">vacuolar</text>
<text x="324" y="153">azurophil</text>
<text x="324" y="158.6">membrane</text>
<text x="352.3" y="149.1">ficolin</text>
<text x="352.3" y="154.1">rich</text>
<text x="352.3" y="159.2">granule</text>
<text x="289.6" y="175.5">oxidative</text>
<text x="289.6" y="180.9">induced</text>
<text x="289.6" y="187.1">death</text>
<text x="395" y="131.9">positive</text>
<text x="395" y="137.3">interferon</text>
<text x="395" y="142.9">production</text>
<text x="431.7" y="122.5">regulator</text>
<text x="431.7" y="127.9">translation</text>
<text x="431.7" y="133.4">factor</text>
</g>
<text x="129.9" y="250.2" class="pl">C</text>
<rect x="142.5" y="264" width="14.4" height="27.1" fill="#e5542d"/>
<rect x="156.9" y="264" width="14" height="27.1" fill="#fbe08f"/>
<text x="174.0" y="281.52" class="t84">AK4</text>
<rect x="142.5" y="291.05" width="14.4" height="27.1" fill="#e8efe0"/>
<rect x="156.9" y="291.05" width="14" height="27.1" fill="#9fc6e1"/>
<text x="174.0" y="308.57" class="t84">GLUT1</text>
<rect x="142.5" y="318.1" width="14.4" height="27.1" fill="#d81e1e"/>
<rect x="156.9" y="318.1" width="14" height="27.1" fill="#fbe290"/>
<text x="174.0" y="335.62" class="t84">MYC</text>
<rect x="142.5" y="345.15" width="14.4" height="27.1" fill="#d3e6f1"/>
<rect x="156.9" y="345.15" width="14" height="27.1" fill="#2f6eb5"/>
<text x="174.0" y="362.67" class="t84">PROM1</text>
<rect x="142.5" y="372.2" width="14.4" height="27.1" fill="#f4975a"/>
<rect x="156.9" y="372.2" width="14" height="27.1" fill="#a7cbe4"/>
<text x="174.0" y="389.72" class="t84">CA9</text>
<text class="t8" transform="translate(146.1,403.6) rotate(90)">Hypoxia</text>
<text class="t8" transform="translate(161.0,403.6) rotate(90)">Normoxia</text>
<defs><linearGradient id="cg" x1="0" y1="0" x2="0" y2="1"><stop offset="0" stop-color="#d7302a"/><stop offset="0.25" stop-color="#f6a25a"/><stop offset="0.45" stop-color="#fbe597"/><stop offset="0.62" stop-color="#e6f0e8"/><stop offset="0.8" stop-color="#9cc5e0"/><stop offset="1" stop-color="#3a73b4"/></linearGradient></defs>
<rect x="208.4" y="274.5" width="4.2" height="60.8" fill="url(#cg)"/>
<text x="211.8" y="260.3" class="t8" text-anchor="middle">copies per µL</text>
<text x="211.2" y="270.8" class="t8" text-anchor="middle">(log2)</text>
<text x="214.8" y="281.2" class="t75">4.5</text>
<text x="214.8" y="291.1" class="t75">4</text>
<text x="214.8" y="301" class="t75">3.5</text>
<text x="214.8" y="310.9" class="t75">3</text>
<text x="214.8" y="320.8" class="t75">2.5</text>
<text x="214.8" y="330.7" class="t75">2</text>
<text x="245.7" y="250.3" class="pl">D</text>
<rect x="398.3" y="268.2" width="96.05" height="7.8" fill="#fdf2c4"/>
<text x="395.6" y="273.75" class="t77" text-anchor="end">Translation Termination Mitochondrial</text>
<rect x="398.3" y="278.08" width="96.51" height="7.8" fill="#fde7a2"/>
<text x="395.6" y="283.95" class="t77" text-anchor="end">Cards Vescicle Golgi</text>
<rect x="398.3" y="287.96" width="100.22" height="7.8" fill="#fdcc7c"/>
<text x="395.6" y="293.75" class="t77" text-anchor="end">Electronic Chain</text>
<rect x="398.3" y="297.84" width="100.22" height="7.8" fill="#fbac55"/>
<text x="395.6" y="303.25" class="t77" text-anchor="end">Vacuole Autophagosome Macroautophagy</text>
<rect x="398.3" y="307.72" width="100.22" height="7.8" fill="#f68c3d"/>
<text x="395.6" y="314.65" class="t77" text-anchor="end">Apoptotic Signaling DNA</text>
<rect x="398.3" y="317.6" width="100.69" height="7.8" fill="#eb5a2b"/>
<text x="395.6" y="323.95" class="t77" text-anchor="end">Finculin Rich Granule</text>
<rect x="398.3" y="327.48" width="103.47" height="7.8" fill="#e0201e"/>
<text x="395.6" y="332.55" class="t77" text-anchor="end">Phospholipid Biosynthetic Process</text>
<rect x="398.3" y="337.36" width="104.4" height="7.8" fill="#c1102b"/>
<text x="395.6" y="341.75" class="t77" text-anchor="end">Oxidative Induced Death</text>
<rect x="398.3" y="347.24" width="104.4" height="7.8" fill="#8c0826"/>
<text x="395.6" y="353.75" class="t77" text-anchor="end">Positive Intereferon Production</text>
<g stroke="#111" stroke-width="0.8" fill="none">
<line x1="398.3" y1="266.8" x2="398.3" y2="358.6"/>
<line x1="397.9" y1="358.2" x2="514.8" y2="358.2"/>
<line x1="398.3" y1="358.2" x2="398.3" y2="360.6"/>
<line x1="421.5" y1="358.2" x2="421.5" y2="360.6"/>
<line x1="444.7" y1="358.2" x2="444.7" y2="360.6"/>
<line x1="467.9" y1="358.2" x2="467.9" y2="360.6"/>
<line x1="491.1" y1="358.2" x2="491.1" y2="360.6"/>
<line x1="514.3" y1="358.2" x2="514.3" y2="360.6"/>
</g>
<text x="398.3" y="371.3" class="t8" text-anchor="middle">0.0</text>
<text x="421.5" y="371.3" class="t8" text-anchor="middle">0.5</text>
<text x="444.7" y="371.3" class="t8" text-anchor="middle">1.0</text>
<text x="467.9" y="371.3" class="t8" text-anchor="middle">1.5</text>
<text x="491.1" y="371.3" class="t8" text-anchor="middle">2.0</text>
<text x="514.3" y="371.3" class="t8" text-anchor="middle">2.5</text>
<text x="458" y="386.2" class="t10" text-anchor="middle">NES</text>
<defs><filter id="tex" x="0" y="0" width="1" height="1" color-interpolation-filters="sRGB"><feTurbulence type="fractalNoise" baseFrequency="0.38" numOctaves="3" seed="3" result="n"/><feColorMatrix in="n" type="matrix" values="1 0 0 0 0  1 0 0 0 0  1 0 0 0 0  0 0 0 0 1" result="g"/><feComposite in="SourceGraphic" in2="g" operator="arithmetic" k1="0" k2="1" k3="0.32" k4="-0.16"/></filter><filter id="tex2" x="0" y="0" width="1" height="1" color-interpolation-filters="sRGB"><feTurbulence type="fractalNoise" baseFrequency="0.5" numOctaves="2" seed="5" result="n"/><feColorMatrix in="n" type="matrix" values="1 0 0 0 0  1 0 0 0 0  1 0 0 0 0  0 0 0 0 1" result="g"/><feComponentTransfer in="g" result="g2"><feFuncR type="linear" slope="4" intercept="-1.6"/><feFuncG type="linear" slope="4" intercept="-1.6"/><feFuncB type="linear" slope="4" intercept="-1.6"/></feComponentTransfer><feComposite in="SourceGraphic" in2="g2" operator="arithmetic" k1="0" k2="1" k3="0.22" k4="-0.13"/></filter></defs>
<text x="0.2" y="463.1" class="pl">E</text>
<rect x="27.3" y="470.5" width="149.8" height="10.2" fill="#0a0a0a"/>
<text x="101.5" y="478.7" class="t85" fill="#fff" text-anchor="middle">Normoxia</text>
<rect x="192.2" y="470.5" width="149" height="10.2" fill="#0a0a0a"/>
<text x="266.7" y="478.7" class="t85" fill="#fff" text-anchor="middle">Hypoxia</text>
<text x="2.4" y="517.9" class="t9">pt #6</text>
<text x="2.4" y="598.9" class="t9">pt #8</text>
<clipPath id="c1"><rect x="27.3" y="481.6" width="73.6" height="75"/></clipPath>
<g clip-path="url(#c1)">
<g filter="url(#tex)">
<rect x="27" y="481" width="75" height="77" fill="#b9b9b9"/>
<ellipse cx="30" cy="505" rx="9" ry="24" fill="#c6c6c6"/>
<ellipse cx="88" cy="500" rx="12" ry="18" fill="#c2c2c2"/>
<ellipse cx="42" cy="550" rx="22" ry="9" fill="#858585"/>
<ellipse cx="60" cy="552" rx="10" ry="5" fill="#9a9a9a"/>
<ellipse cx="78" cy="537" rx="14" ry="9" fill="#8e8e8e"/>
<ellipse cx="65.8" cy="502" rx="18" ry="16" fill="#767676" stroke="#4a4a4a" stroke-width="0.7"/>
<ellipse cx="71" cy="525.5" rx="20.5" ry="16" fill="#727272" stroke="#4a4a4a" stroke-width="0.7"/>
<ellipse cx="64" cy="507" rx="11.7" ry="8" fill="#2c2c2c"/>
<ellipse cx="67.2" cy="504.6" rx="8.4" ry="4.6" fill="#6a6a6a"/>
<ellipse cx="60" cy="509" rx="3" ry="2" fill="#444"/>
<ellipse cx="65.5" cy="525.7" rx="9" ry="6.8" fill="#2c2c2c"/>
<ellipse cx="66.2" cy="526.2" rx="6.3" ry="4.4" fill="#5e5e5e"/>
<ellipse cx="80.5" cy="519.8" rx="7.2" ry="5.6" fill="#2c2c2c"/>
<ellipse cx="81" cy="520" rx="4.6" ry="3.4" fill="#5e5e5e"/>
<circle cx="79" cy="497" r="0.9" fill="#222"/>
<circle cx="94" cy="527" r="0.8" fill="#222"/>
<rect x="55.2" y="486.1" width="17.9" height="20.9" fill="none" stroke="#333" stroke-width="0.5"/>
<line x1="73.1" y1="486.1" x2="100.9" y2="482" stroke="#444" stroke-width="0.45"/>
<line x1="73.1" y1="507" x2="100.9" y2="556" stroke="#444" stroke-width="0.45"/>
<line x1="27" y1="543" x2="35" y2="553" stroke="#e6e6e6" stroke-width="0.9"/>
</g>
<rect x="27.3" y="553.8" width="73.6" height="2.8" fill="#0a0a0a"/>
<rect x="57.1" y="554.3" width="14" height="1.6" fill="#777"/>
</g>
<clipPath id="c2"><rect x="102.9" y="481.6" width="74.1" height="75"/></clipPath>
<g clip-path="url(#c2)">
<g filter="url(#tex)">
<rect x="102" y="481" width="76" height="77" fill="#8c8c8c"/>
<path d="M102,481 L133,481 C124,487 116,496 111,506 C106,516 104,528 102,540 Z" fill="#c4c0c0"/>
<ellipse cx="121" cy="551" rx="24" ry="21" fill="#383838"/>
<ellipse cx="169" cy="557" rx="19" ry="11" fill="#404040"/>
<circle cx="143" cy="520.5" r="4.2" fill="#cfcfcf" stroke="#505050" stroke-width="0.4"/>
<circle cx="146" cy="500.5" r="3.6" fill="#c8c8c8" stroke="#505050" stroke-width="0.4"/>
<circle cx="140" cy="511" r="2.6" fill="#b0b0b0" stroke="#505050" stroke-width="0.4"/>
<circle cx="129" cy="514" r="3" fill="#b8b8b8" stroke="#505050" stroke-width="0.4"/>
<circle cx="158" cy="491.5" r="2.4" fill="#a0a0a0" stroke="#505050" stroke-width="0.4"/>
<circle cx="170" cy="489" r="2.6" fill="#a0a0a0" stroke="#505050" stroke-width="0.4"/>
<circle cx="133" cy="524" r="2.4" fill="#b0b0b0" stroke="#505050" stroke-width="0.4"/>
<circle cx="125" cy="505" r="2.5" fill="#aaa" stroke="#505050" stroke-width="0.4"/>
<circle cx="150" cy="514" r="2.2" fill="#aaa" stroke="#505050" stroke-width="0.4"/>
<circle cx="162" cy="520" r="2.2" fill="#9a9a9a" stroke="#505050" stroke-width="0.4"/>
<circle cx="155" cy="532" r="2.5" fill="#999" stroke="#505050" stroke-width="0.4"/>
<circle cx="165" cy="505" r="2" fill="#9a9a9a" stroke="#505050" stroke-width="0.4"/>
<circle cx="118" cy="496" r="2.3" fill="#b0b0b0" stroke="#505050" stroke-width="0.4"/>
<circle cx="110" cy="513" r="3.2" fill="#cccccc" stroke="#505050" stroke-width="0.4"/>
<circle cx="113" cy="527" r="3" fill="#cdcdcd" stroke="#505050" stroke-width="0.4"/>
<circle cx="136" cy="500" r="2" fill="#6a6a6a" stroke="#505050" stroke-width="0.4"/>
<circle cx="147" cy="540" r="2.2" fill="#959595" stroke="#505050" stroke-width="0.4"/>
<circle cx="172" cy="530" r="2.5" fill="#969696" stroke="#505050" stroke-width="0.4"/>
<circle cx="161" cy="484.5" r="2" fill="#999" stroke="#505050" stroke-width="0.4"/>
<circle cx="174" cy="498" r="2" fill="#999" stroke="#505050" stroke-width="0.4"/>
<circle cx="157" cy="510" r="1.8" fill="#999" stroke="#505050" stroke-width="0.4"/>
<circle cx="166" cy="539" r="2" fill="#969696" stroke="#505050" stroke-width="0.4"/>
<circle cx="108" cy="503" r="1" fill="#b81828"/>
<circle cx="106" cy="519" r="1" fill="#b81828"/>
<circle cx="121" cy="511" r="1" fill="#b81828"/>
<circle cx="126" cy="517" r="1" fill="#b81828"/>
<circle cx="131" cy="512" r="1" fill="#b81828"/>
<circle cx="141" cy="507" r="1" fill="#b81828"/>
<circle cx="149" cy="508" r="1" fill="#b81828"/>
<circle cx="142" cy="527" r="1" fill="#b81828"/>
<circle cx="135" cy="519" r="1" fill="#b81828"/>
</g>
<rect x="102.9" y="553.8" width="74.1" height="2.8" fill="#0a0a0a"/>
<rect x="132.95" y="554.3" width="14" height="1.6" fill="#777"/>
</g>
<text x="108.9" y="498" font-weight="bold" font-size="7.4" fill="#d0101c">AV</text>
<path d="M119.6,495.4 l3.2,-1.6 l-0.7,1.25 l2.2,0 l0,0.75 l-2.2,0 l0.7,1.25 z" fill="#d0101c"/>
<clipPath id="c3"><rect x="192.2" y="481.6" width="73.4" height="75"/></clipPath>
<g clip-path="url(#c3)">
<g filter="url(#tex)">
<rect x="192" y="481" width="75" height="77" fill="#b6b6b6"/>
<ellipse cx="255" cy="498" rx="14" ry="16" fill="#c4c4c4"/>
<ellipse cx="205" cy="545" rx="14" ry="10" fill="#c0c0c0"/>
<path d="M201.25,507 C201.88,503.25 203.62,496.62 206.5,493.5 C209.38,490.38 214.25,488.75 218.5,488.25 C222.75,487.75 228.12,488.38 232,490.5 C235.88,492.62 239.5,497.25 241.75,501 C244,504.75 245.5,509.25 245.5,513 C245.5,516.75 244.25,521 241.75,523.5 C239.25,526 234.62,527.25 230.5,528 C226.38,528.75 220.75,529 217,528 C213.25,527 210.38,524 208,522 C205.62,520 203.88,518.5 202.75,516 C201.62,513.5 200.62,510.75 201.25,507 Z" fill="#7a7a7a" stroke="#505050" stroke-width="0.7"/>
<path d="M233.5,529.5 C234.88,527 237.75,524.5 241,523.5 C244.25,522.5 249.75,522.25 253,523.5 C256.25,524.75 259,528 260.5,531 C262,534 262.75,538.5 262,541.5 C261.25,544.5 258.75,547.5 256,549 C253.25,550.5 248.75,551 245.5,550.5 C242.25,550 238.62,548 236.5,546 C234.38,544 233.25,541.25 232.75,538.5 C232.25,535.75 232.12,532 233.5,529.5 Z" fill="#707070" stroke="#484848" stroke-width="0.7"/>
<ellipse cx="216.25" cy="518.25" rx="7.5" ry="7" fill="#6a6a6a" stroke="#353535" stroke-width="0.8"/>
<ellipse cx="232.75" cy="512.25" rx="7.5" ry="5.5" fill="#6a6a6a" stroke="#353535" stroke-width="0.8"/>
<ellipse cx="225" cy="516" rx="4" ry="6" fill="#646464" stroke="#353535" stroke-width="0.6"/>
<ellipse cx="248.5" cy="537.75" rx="9" ry="7" fill="#5a5a5a" stroke="#2e2e2e" stroke-width="0.8"/>
<ellipse cx="247" cy="538" rx="4" ry="3" fill="#6a6a6a" stroke="#333" stroke-width="0.5"/>
<circle cx="218" cy="498" r="1.2" fill="#333"/>
<circle cx="225" cy="500" r="0.8" fill="#333"/>
<line x1="239" y1="500" x2="265.6" y2="484" stroke="#555" stroke-width="0.45"/>
<path d="M257,547 l5,4 l-3,2 z" fill="#b86070" opacity="0.6"/>
</g>
<rect x="192.2" y="553.8" width="73.4" height="2.8" fill="#0a0a0a"/>
<rect x="221.9" y="554.3" width="14" height="1.6" fill="#777"/>
</g>
<clipPath id="c4"><rect x="267.7" y="481.6" width="73.5" height="75"/></clipPath>
<g clip-path="url(#c4)">
<g filter="url(#tex)">
<rect x="267" y="481" width="75" height="77" fill="#8e8e8e"/>
<path d="M267,481 L277,481 C286,492 292,503 292.7,514.5 C292,524 289,530 286,533 C280,536 273,536 267,535 Z" fill="#a2a2a2" stroke="#3a3a3a" stroke-width="0.9"/>
<path d="M314.5,481 C318,490 326,499 342,505 L342,481 Z" fill="#7a7a7a" stroke="#3a3a3a" stroke-width="0.9"/>
<path d="M267,535 C276,538 284,540 292,545 C300,550 320,552 342,548" fill="none" stroke="#505050" stroke-width="0.6"/>
<ellipse cx="291.3" cy="492.8" rx="5.5" ry="5.8" fill="#727272" stroke="#2e2e2e" stroke-width="0.8"/>
<ellipse cx="298.8" cy="501.8" rx="4.6" ry="4.6" fill="#727272" stroke="#2e2e2e" stroke-width="0.8"/>
<ellipse cx="310.8" cy="507.8" rx="4.2" ry="5.5" fill="#727272" stroke="#2e2e2e" stroke-width="0.8"/>
<ellipse cx="325" cy="526.5" rx="5.8" ry="5" fill="#727272" stroke="#2e2e2e" stroke-width="0.8"/>
<ellipse cx="298" cy="535.5" rx="5" ry="4" fill="#727272" stroke="#2e2e2e" stroke-width="0.8"/>
<ellipse cx="299.5" cy="544.5" rx="6" ry="4" fill="#727272" stroke="#2e2e2e" stroke-width="0.8"/>
<ellipse cx="283.8" cy="541.5" rx="4" ry="3.5" fill="#727272" stroke="#2e2e2e" stroke-width="0.8"/>
<ellipse cx="274" cy="546" rx="3.5" ry="2.5" fill="#c23040"/>
<circle cx="279" cy="549" r="1.2" fill="#c23040"/>
</g>
<rect x="267.7" y="553.8" width="73.5" height="2.8" fill="#0a0a0a"/>
<rect x="297.45" y="554.3" width="14" height="1.6" fill="#777"/>
</g>
<clipPath id="c5"><rect x="27.3" y="562.4" width="73.6" height="74.6"/></clipPath>
<g clip-path="url(#c5)">
<g filter="url(#tex)">
<rect x="27" y="562" width="75" height="76" fill="#c2c2c2"/>
<ellipse cx="61.5" cy="596.7" rx="26" ry="27.8" fill="#a4a4a4" stroke="#505050" stroke-width="0.8"/>
<circle cx="59.7" cy="600.1" r="2.5" fill="#cbcbcb" stroke="#7a7a7a" stroke-width="0.35"/>
<circle cx="46.9" cy="597.6" r="2.1" fill="#cbcbcb" stroke="#7a7a7a" stroke-width="0.35"/>
<circle cx="52.6" cy="575.7" r="2.3" fill="#cbcbcb" stroke="#7a7a7a" stroke-width="0.35"/>
<circle cx="71.3" cy="573.2" r="2.6" fill="#cbcbcb" stroke="#7a7a7a" stroke-width="0.35"/>
<circle cx="67.5" cy="579.2" r="1.2" fill="#cbcbcb" stroke="#7a7a7a" stroke-width="0.35"/>
<circle cx="63.4" cy="574.1" r="1.5" fill="#cbcbcb" stroke="#7a7a7a" stroke-width="0.35"/>
<circle cx="60.3" cy="593.9" r="2.4" fill="#cbcbcb" stroke="#7a7a7a" stroke-width="0.35"/>
<circle cx="62.9" cy="604.3" r="1.9" fill="#cbcbcb" stroke="#7a7a7a" stroke-width="0.35"/>
<circle cx="69.8" cy="594.8" r="1.6" fill="#cbcbcb" stroke="#7a7a7a" stroke-width="0.35"/>
<circle cx="78.3" cy="607.8" r="1.6" fill="#cbcbcb" stroke="#7a7a7a" stroke-width="0.35"/>
<circle cx="49" cy="586" r="1.3" fill="#cbcbcb" stroke="#7a7a7a" stroke-width="0.35"/>
<circle cx="74.8" cy="591.8" r="2.4" fill="#cbcbcb" stroke="#7a7a7a" stroke-width="0.35"/>
<circle cx="60.6" cy="622" r="1.8" fill="#cbcbcb" stroke="#7a7a7a" stroke-width="0.35"/>
<circle cx="75.4" cy="585" r="1.3" fill="#cbcbcb" stroke="#7a7a7a" stroke-width="0.35"/>
<circle cx="74.4" cy="577.1" r="1.5" fill="#cbcbcb" stroke="#7a7a7a" stroke-width="0.35"/>
<circle cx="59.5" cy="580.9" r="2.2" fill="#cbcbcb" stroke="#7a7a7a" stroke-width="0.35"/>
<circle cx="43.6" cy="592.9" r="1.5" fill="#cbcbcb" stroke="#7a7a7a" stroke-width="0.35"/>
<circle cx="48.1" cy="591.5" r="2.4" fill="#cbcbcb" stroke="#7a7a7a" stroke-width="0.35"/>
<circle cx="53.8" cy="586.4" r="1.3" fill="#cbcbcb" stroke="#7a7a7a" stroke-width="0.35"/>
<circle cx="42.3" cy="601.3" r="1.5" fill="#cbcbcb" stroke="#7a7a7a" stroke-width="0.35"/>
<circle cx="66.9" cy="590.3" r="1.8" fill="#cbcbcb" stroke="#7a7a7a" stroke-width="0.35"/>
<circle cx="84" cy="596.2" r="2" fill="#cbcbcb" stroke="#7a7a7a" stroke-width="0.35"/>
<circle cx="79.6" cy="580.5" r="1.4" fill="#cbcbcb" stroke="#7a7a7a" stroke-width="0.35"/>
<circle cx="50" cy="580.9" r="2.2" fill="#cbcbcb" stroke="#7a7a7a" stroke-width="0.35"/>
<circle cx="66.6" cy="586.3" r="1.4" fill="#cbcbcb" stroke="#7a7a7a" stroke-width="0.35"/>
<circle cx="64.8" cy="615.3" r="2.1" fill="#cbcbcb" stroke="#7a7a7a" stroke-width="0.35"/>
<circle cx="71.2" cy="601.4" r="1.4" fill="#cbcbcb" stroke="#7a7a7a" stroke-width="0.35"/>
<circle cx="39" cy="604.1" r="1.9" fill="#cbcbcb" stroke="#7a7a7a" stroke-width="0.35"/>
<circle cx="79.4" cy="600.8" r="2.1" fill="#cbcbcb" stroke="#7a7a7a" stroke-width="0.35"/>
<circle cx="78.2" cy="615.1" r="2.2" fill="#cbcbcb" stroke="#7a7a7a" stroke-width="0.35"/>
<circle cx="61.7" cy="587.4" r="2.4" fill="#cbcbcb" stroke="#7a7a7a" stroke-width="0.35"/>
<circle cx="69.4" cy="613" r="2.5" fill="#cbcbcb" stroke="#7a7a7a" stroke-width="0.35"/>
<circle cx="70.9" cy="581.4" r="1.9" fill="#cbcbcb" stroke="#7a7a7a" stroke-width="0.35"/>
<circle cx="82.8" cy="608.6" r="1.4" fill="#cbcbcb" stroke="#7a7a7a" stroke-width="0.35"/>
<circle cx="81.7" cy="590.6" r="2" fill="#cbcbcb" stroke="#7a7a7a" stroke-width="0.35"/>
<circle cx="64.4" cy="610.9" r="1.9" fill="#cbcbcb" stroke="#7a7a7a" stroke-width="0.35"/>
<circle cx="44.7" cy="578.7" r="1.9" fill="#cbcbcb" stroke="#7a7a7a" stroke-width="0.35"/>
<circle cx="42.1" cy="582.5" r="1.9" fill="#cbcbcb" stroke="#7a7a7a" stroke-width="0.35"/>
<circle cx="65" cy="596.5" r="2.2" fill="#cbcbcb" stroke="#7a7a7a" stroke-width="0.35"/>
<circle cx="50.9" cy="595.6" r="1.4" fill="#cbcbcb" stroke="#7a7a7a" stroke-width="0.35"/>
<circle cx="70.8" cy="618.4" r="2.6" fill="#cbcbcb" stroke="#7a7a7a" stroke-width="0.35"/>
<circle cx="41.4" cy="588.8" r="1.9" fill="#cbcbcb" stroke="#7a7a7a" stroke-width="0.35"/>
<circle cx="40.5" cy="598.5" r="1.4" fill="#cbcbcb" stroke="#7a7a7a" stroke-width="0.35"/>
<circle cx="75.6" cy="603.5" r="1.7" fill="#cbcbcb" stroke="#7a7a7a" stroke-width="0.35"/>
<circle cx="55.9" cy="595.9" r="1.5" fill="#cbcbcb" stroke="#7a7a7a" stroke-width="0.35"/>
<ellipse cx="50.8" cy="611.3" rx="11" ry="11" fill="#7c7c7c" stroke="#363636" stroke-width="1"/>
<rect x="61" y="581.4" width="25" height="35.1" fill="none" stroke="#444" stroke-width="0.5"/>
<line x1="86" y1="581.4" x2="100.9" y2="566" stroke="#555" stroke-width="0.45"/>
<line x1="86" y1="616.5" x2="100.9" y2="634" stroke="#555" stroke-width="0.45"/>
</g>
<rect x="27.3" y="634.2" width="73.6" height="2.8" fill="#0a0a0a"/>
<rect x="57.1" y="634.7" width="14" height="1.6" fill="#777"/>
</g>
<clipPath id="c6"><rect x="102.9" y="562.4" width="74.1" height="74.6"/></clipPath>
<g clip-path="url(#c6)">
<g filter="url(#tex)">
<rect x="102" y="562" width="76" height="76" fill="#939393"/>
<circle cx="108" cy="572" r="4" fill="#b8b8b8" stroke="#4f4f4f" stroke-width="0.6"/>
<circle cx="122" cy="569" r="4.5" fill="#b8b8b8" stroke="#4f4f4f" stroke-width="0.6"/>
<circle cx="140" cy="571" r="4" fill="#b8b8b8" stroke="#4f4f4f" stroke-width="0.6"/>
<circle cx="160" cy="575" r="5" fill="#b8b8b8" stroke="#4f4f4f" stroke-width="0.6"/>
<circle cx="172" cy="590" r="5" fill="#b8b8b8" stroke="#4f4f4f" stroke-width="0.6"/>
<circle cx="150" cy="600" r="5.5" fill="#b8b8b8" stroke="#4f4f4f" stroke-width="0.6"/>
<circle cx="128" cy="590" r="4" fill="#b8b8b8" stroke="#4f4f4f" stroke-width="0.6"/>
<circle cx="115" cy="605" r="4.5" fill="#b8b8b8" stroke="#4f4f4f" stroke-width="0.6"/>
<circle cx="125" cy="617" r="5.5" fill="#b8b8b8" stroke="#4f4f4f" stroke-width="0.6"/>
<circle cx="142" cy="622" r="5" fill="#b8b8b8" stroke="#4f4f4f" stroke-width="0.6"/>
<circle cx="162" cy="615" r="6" fill="#b8b8b8" stroke="#4f4f4f" stroke-width="0.6"/>
<circle cx="172" cy="628" r="4" fill="#b8b8b8" stroke="#4f4f4f" stroke-width="0.6"/>
<circle cx="110" cy="628" r="4" fill="#b8b8b8" stroke="#4f4f4f" stroke-width="0.6"/>
<circle cx="135" cy="604" r="3.5" fill="#b8b8b8" stroke="#4f4f4f" stroke-width="0.6"/>
<circle cx="160" cy="598" r="3" fill="#b8b8b8" stroke="#4f4f4f" stroke-width="0.6"/>
<circle cx="118" cy="582" r="3" fill="#b8b8b8" stroke="#4f4f4f" stroke-width="0.6"/>
<circle cx="148" cy="585" r="3.5" fill="#b8b8b8" stroke="#4f4f4f" stroke-width="0.6"/>
<circle cx="172" cy="607" r="3" fill="#b8b8b8" stroke="#4f4f4f" stroke-width="0.6"/>
<circle cx="150" cy="624" r="8" fill="none" stroke="#4a4a4a" stroke-width="0.6"/>
<circle cx="171" cy="606" r="6.5" fill="none" stroke="#4a4a4a" stroke-width="0.6"/>
<circle cx="126" cy="612" r="6.5" fill="none" stroke="#4a4a4a" stroke-width="0.6"/>
<circle cx="160" cy="579" r="5.5" fill="none" stroke="#4a4a4a" stroke-width="0.6"/>
<circle cx="113" cy="572" r="5" fill="none" stroke="#4a4a4a" stroke-width="0.6"/>
<circle cx="131" cy="603" r="3.3" fill="#555" stroke="#333" stroke-width="0.4"/>
<circle cx="148" cy="598" r="3.5" fill="#606060" stroke="#333" stroke-width="0.4"/>
<circle cx="170" cy="591" r="1.8" fill="#333"/>
<ellipse cx="112" cy="594" rx="8" ry="5" fill="#9a7a80"/>
<text x="106.6" y="594.6" font-weight="bold" font-size="7" fill="#d0101c">AV</text>
<circle cx="122" cy="586" r="0.9" fill="#c01020"/>
<circle cx="140" cy="577" r="0.9" fill="#c01020"/>
<circle cx="138" cy="612" r="0.9" fill="#c01020"/>
<circle cx="159" cy="611" r="0.9" fill="#c01020"/>
<circle cx="124" cy="628" r="0.9" fill="#c01020"/>
<circle cx="165" cy="626" r="0.9" fill="#c01020"/>
<circle cx="152" cy="614" r="0.9" fill="#c01020"/>
</g>
<rect x="102.9" y="634.2" width="74.1" height="2.8" fill="#0a0a0a"/>
<rect x="132.95" y="634.7" width="14" height="1.6" fill="#777"/>
</g>
<clipPath id="c7"><rect x="192.2" y="562.4" width="73.4" height="74.6"/></clipPath>
<g clip-path="url(#c7)">
<g>
<rect x="192" y="562" width="75" height="76" fill="#e6e6e6" filter="url(#tex2)"/>
<g filter="url(#tex)">
<path d="M205,580.5 C207.5,578.12 210.5,575 215.5,573.75 C220.5,572.5 229.5,571.88 235,573 C240.5,574.12 245.62,577.62 248.5,580.5 C251.38,583.38 252.75,586.75 252.25,590.25 C251.75,593.75 249.38,598.5 245.5,601.5 C241.62,604.5 235,606.38 229,608.25 C223,610.12 214.25,613.88 209.5,612.75 C204.75,611.62 202,605.62 200.5,601.5 C199,597.38 199.75,591.5 200.5,588 C201.25,584.5 202.5,582.88 205,580.5 Z" fill="#6e6e6e" stroke="#444" stroke-width="1"/>
<ellipse cx="232" cy="589" rx="14" ry="10" transform="rotate(-15 232 589)" fill="#676767"/>
</g>
<circle cx="215.5" cy="573" r="1.5" fill="#222"/>
<circle cx="264.5" cy="586" r="0.8" fill="#222"/>
<rect x="200.5" y="589.5" width="29.25" height="26.7" fill="none" stroke="#333" stroke-width="0.5"/>
<line x1="229.75" y1="616.2" x2="265.6" y2="634" stroke="#555" stroke-width="0.45"/>
<line x1="229.75" y1="589.5" x2="265.6" y2="566" stroke="#555" stroke-width="0.45"/>
</g>
<rect x="192.2" y="634.2" width="73.4" height="2.8" fill="#0a0a0a"/>
<rect x="221.9" y="634.7" width="14" height="1.6" fill="#777"/>
</g>
<clipPath id="c8"><rect x="267.7" y="562.4" width="73.5" height="74.6"/></clipPath>
<g clip-path="url(#c8)">
<g filter="url(#tex)">
<rect x="267" y="562" width="75" height="76" fill="#d0d0d0"/>
<path d="M267,562 L342,562 L342,613 C330,610 320,612 310,616 C300,620 285,622 267,616 Z" fill="#7d7d7d"/>
<path d="M267,562 L342,562 L342,597 C332,594 320,590 310,589 C298,588 288,585 280,583 C274,581 270,579 267,578 Z" fill="#5e5e5e"/>
<ellipse cx="281" cy="588" rx="4.5" ry="4" fill="#787878" stroke="#333" stroke-width="0.6"/>
<ellipse cx="297" cy="584" rx="4" ry="3.5" fill="#787878" stroke="#333" stroke-width="0.6"/>
<ellipse cx="303" cy="590" rx="4.5" ry="3.5" fill="#787878" stroke="#333" stroke-width="0.6"/>
<ellipse cx="283" cy="597" rx="4" ry="3" fill="#787878" stroke="#333" stroke-width="0.6"/>
<ellipse cx="295" cy="602" rx="5" ry="3.5" fill="#787878" stroke="#333" stroke-width="0.6"/>
<ellipse cx="308" cy="604" rx="4" ry="4" fill="#787878" stroke="#333" stroke-width="0.6"/>
<ellipse cx="318" cy="595" rx="4" ry="3.5" fill="#787878" stroke="#333" stroke-width="0.6"/>
<ellipse cx="326" cy="592" rx="3.5" ry="3" fill="#787878" stroke="#333" stroke-width="0.6"/>
<circle cx="302.5" cy="601" r="1.4" fill="#1a1a1a"/>
<circle cx="338" cy="604" r="2.2" fill="#f0f0f0"/>
</g>
<rect x="267.7" y="634.2" width="73.5" height="2.8" fill="#0a0a0a"/>
<rect x="297.45" y="634.7" width="14" height="1.6" fill="#777"/>
</g>
<text x="358.4" y="462.6" class="pl">F</text>
<rect x="406.2" y="609.52" width="15.1" height="17.78" fill="#4a87c9"/>
<g stroke="#222" stroke-width="0.7"><line x1="413.75" y1="609.52" x2="413.75" y2="605.27"/><line x1="410.25" y1="605.27" x2="417.25" y2="605.27"/></g>
<rect x="430.1" y="525.26" width="14.7" height="102.04" fill="#f39019"/>
<g stroke="#222" stroke-width="0.7"><line x1="437.45" y1="525.26" x2="437.45" y2="510.19"/><line x1="433.95" y1="510.19" x2="440.95" y2="510.19"/></g>
<rect x="470" y="588.65" width="15" height="38.65" fill="#4a87c9"/>
<g stroke="#222" stroke-width="0.7"><line x1="477.5" y1="588.65" x2="477.5" y2="579.76"/><line x1="474" y1="579.76" x2="481" y2="579.76"/></g>
<rect x="493.8" y="525.65" width="15.7" height="101.65" fill="#f39019"/>
<g stroke="#222" stroke-width="0.7"><line x1="501.65" y1="525.65" x2="501.65" y2="510.19"/><line x1="498.15" y1="510.19" x2="505.15" y2="510.19"/></g>
<g stroke="#111" stroke-width="0.8" fill="none">
<line x1="400.7" y1="472.3" x2="400.7" y2="627.7"/>
<line x1="400.3" y1="627.3" x2="511.8" y2="627.3"/>
<line x1="398.3" y1="627.3" x2="400.7" y2="627.3"/>
<line x1="398.3" y1="588.65" x2="400.7" y2="588.65"/>
<line x1="398.3" y1="550" x2="400.7" y2="550"/>
<line x1="398.3" y1="511.35" x2="400.7" y2="511.35"/>
<line x1="398.3" y1="472.7" x2="400.7" y2="472.7"/>
<line x1="425.2" y1="627.3" x2="425.2" y2="629.7"/>
<line x1="487.3" y1="627.3" x2="487.3" y2="629.7"/>
<path d="M413.7,499.2 V502.8 M413.7,501 H435.6 M435.6,499.2 V502.8"/>
<path d="M477.5,499.2 V502.8 M477.5,501 H499.7 M499.7,499.2 V502.8"/>
</g>
<text x="424.6" y="500.2" class="t7" text-anchor="middle">****</text>
<text x="488.6" y="500.2" class="t7" text-anchor="middle">**</text>
<text x="395.4" y="631.3" class="t88" text-anchor="end">0</text>
<text x="395.4" y="592.65" class="t88" text-anchor="end">10</text>
<text x="395.4" y="554" class="t88" text-anchor="end">20</text>
<text x="395.4" y="515.35" class="t88" text-anchor="end">30</text>
<text x="395.4" y="476.7" class="t88" text-anchor="end">40</text>
<text x="425.2" y="640.6" class="t8" text-anchor="middle">pt #6</text>
<text x="487.3" y="640.6" class="t8" text-anchor="middle">pt #8</text>
<text class="t95" text-anchor="middle" transform="translate(378.8,549.4) rotate(-90) scale(0.76,1)" fill="#000">AV number per cell</text>
<rect x="457.9" y="471" width="14.7" height="7.6" fill="#4a87c9"/>
<rect x="457.9" y="484.8" width="14.7" height="7.5" fill="#f39019"/>
<text x="475.3" y="477.6" class="t75">Hypoxia</text>
<text x="475.3" y="491.3" class="t75">Normoxia</text>
</svg>
</body></html>
